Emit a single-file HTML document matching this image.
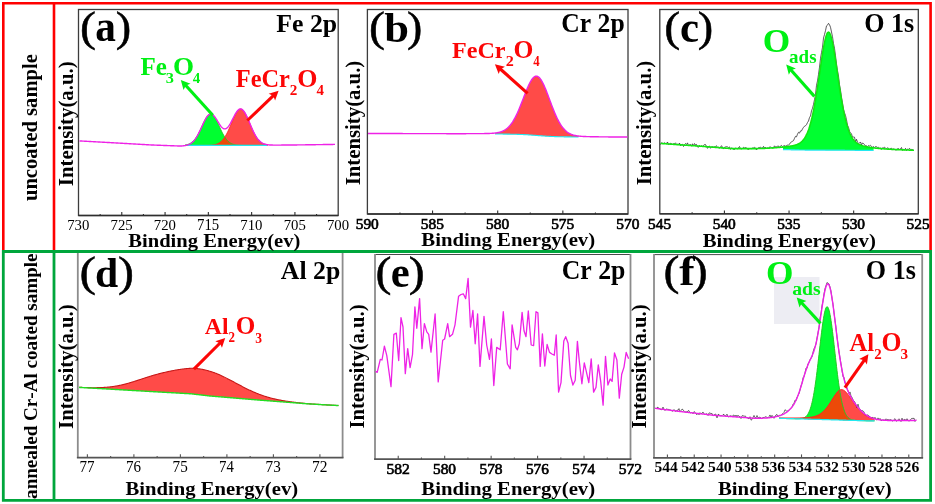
<!DOCTYPE html>
<html><head><meta charset="utf-8"><title>XPS spectra</title>
<style>html,body{margin:0;padding:0;background:#fff;width:935px;height:504px;overflow:hidden}</style>
</head><body>
<svg width="935" height="504" viewBox="0 0 935 504" style="display:block;filter:blur(0.4px);font-family:'Liberation Serif',serif;font-kerning:none">
<rect width="935" height="504" fill="#fff"/>
<rect x="78.5" y="9.5" width="259.7" height="206" fill="none" stroke="#3c3c3c" stroke-width="1.3"/>
<line x1="78.5" y1="215.5" x2="338.2" y2="215.5" stroke="#2e2e2e" stroke-width="1.3"/>
<line x1="316.56" y1="215.5" x2="316.56" y2="213.9" stroke="#2e2e2e" stroke-width="1.1"/>
<line x1="294.92" y1="215.5" x2="294.92" y2="212.1" stroke="#2e2e2e" stroke-width="1.1"/>
<line x1="273.27" y1="215.5" x2="273.27" y2="213.9" stroke="#2e2e2e" stroke-width="1.1"/>
<line x1="251.63" y1="215.5" x2="251.63" y2="212.1" stroke="#2e2e2e" stroke-width="1.1"/>
<line x1="229.99" y1="215.5" x2="229.99" y2="213.9" stroke="#2e2e2e" stroke-width="1.1"/>
<line x1="208.35" y1="215.5" x2="208.35" y2="212.1" stroke="#2e2e2e" stroke-width="1.1"/>
<line x1="186.71" y1="215.5" x2="186.71" y2="213.9" stroke="#2e2e2e" stroke-width="1.1"/>
<line x1="165.07" y1="215.5" x2="165.07" y2="212.1" stroke="#2e2e2e" stroke-width="1.1"/>
<line x1="143.43" y1="215.5" x2="143.43" y2="213.9" stroke="#2e2e2e" stroke-width="1.1"/>
<line x1="121.78" y1="215.5" x2="121.78" y2="212.1" stroke="#2e2e2e" stroke-width="1.1"/>
<line x1="100.14" y1="215.5" x2="100.14" y2="213.9" stroke="#2e2e2e" stroke-width="1.1"/>
<text transform="translate(67.23,229.65) scale(0.9484,1)" font-size="15.56" font-weight="normal" fill="#000">730</text>
<text transform="translate(110.51,229.65) scale(0.9449,1)" font-size="15.63" font-weight="normal" fill="#000">725</text>
<text transform="translate(153.79,229.65) scale(0.9484,1)" font-size="15.56" font-weight="normal" fill="#000">720</text>
<text transform="translate(197.08,229.65) scale(0.9422,1)" font-size="15.67" font-weight="normal" fill="#000">715</text>
<text transform="translate(240.36,229.65) scale(0.9484,1)" font-size="15.56" font-weight="normal" fill="#000">710</text>
<text transform="translate(283.64,229.65) scale(0.9490,1)" font-size="15.56" font-weight="normal" fill="#000">705</text>
<text transform="translate(326.93,229.65) scale(0.9484,1)" font-size="15.56" font-weight="normal" fill="#000">700</text>
<path d="M185,144.99 L185.5,144.91 L186,144.83 L186.5,144.73 L187,144.61 L187.5,144.48 L188,144.33 L188.5,144.16 L189,143.96 L189.5,143.75 L190,143.5 L190.5,143.23 L191,142.93 L191.5,142.59 L192,142.22 L192.5,141.81 L193,141.36 L193.5,140.86 L194,140.33 L194.5,139.75 L195,139.13 L195.5,138.46 L196,137.74 L196.5,136.98 L197,136.18 L197.5,135.33 L198,134.43 L198.5,133.5 L199,132.53 L199.5,131.53 L200,130.5 L200.5,129.45 L201,128.37 L201.5,127.29 L202,126.2 L202.5,125.11 L203,124.03 L203.5,122.97 L204,121.93 L204.5,120.92 L205,119.96 L205.5,119.04 L206,118.18 L206.5,117.39 L207,116.67 L207.5,116.03 L208,115.47 L208.5,115 L209,114.62 L209.5,114.35 L210,114.17 L210.5,114.1 L211,114.13 L211.5,114.27 L212,114.5 L212.5,114.84 L213,115.27 L213.5,115.79 L214,116.4 L214.5,117.09 L215,117.86 L215.5,118.69 L216,119.58 L216.5,120.53 L217,121.52 L217.5,122.55 L218,123.6 L218.5,124.67 L219,125.76 L219.5,126.85 L220,127.94 L220.5,129.02 L221,130.08 L221.5,131.12 L222,132.14 L222.5,133.12 L223,134.06 L223.5,134.97 L224,135.84 L224.5,136.67 L225,137.44 L225.5,138.18 L226,138.87 L226.5,139.51 L227,140.1 L227.5,140.66 L228,141.16 L228.5,141.63 L229,142.06 L229.5,142.44 L230,142.8 L230.5,143.11 L231,143.4 L231.5,143.65 L232,143.88 L232.5,144.08 L233,144.26 L233.5,144.42 L234,144.56 L234.5,144.68 L235,144.79 L235.5,144.88 L236,144.96 L236.5,145.03 L237,145.09 L237.5,145.14 L238,145.18 L238.5,145.22 L239,145.25 L239.5,145.27 L240,145.3 L240.5,145.31 L241,145.33 L241.5,145.34 L242,145.35 L242.5,145.36 L243,145.37 L243.5,145.38 L244,145.38 L244.5,145.38 L245,145.39 L245.5,145.39 L246,145.39 L246.5,145.39 L247,145.4 L247.5,145.4 L248,145.4 L248.5,145.4 L249,145.4 L249.5,145.4 L250,145.4 L250.5,145.4 L251,145.4 L251.5,145.4 L252,145.4 L252.5,145.4 L253,145.4 L253.5,145.4 L254,145.4 L254.5,145.4 L255,145.4 L255.5,145.4 L256,145.4 L256.5,145.4 L257,145.4 L257.5,145.4 L258,145.4 L258.5,145.4 L259,145.4 L259.5,145.4 L260,145.4 L260.5,145.4 L261,145.4 L261.5,145.4 L262,145.4 L262.5,145.4 L263,145.4 L263.5,145.4 L264,145.4 L264.5,145.4 L265,145.4 L265.5,145.4 L266,145.4 L266.5,145.4 L267,145.4 L267.5,145.4 L267.5,145.4 L267,145.4 L266.5,145.4 L266,145.4 L265.5,145.4 L265,145.4 L264.5,145.4 L264,145.4 L263.5,145.4 L263,145.4 L262.5,145.4 L262,145.4 L261.5,145.4 L261,145.4 L260.5,145.4 L260,145.4 L259.5,145.4 L259,145.4 L258.5,145.4 L258,145.4 L257.5,145.4 L257,145.4 L256.5,145.4 L256,145.4 L255.5,145.4 L255,145.4 L254.5,145.4 L254,145.4 L253.5,145.4 L253,145.4 L252.5,145.4 L252,145.4 L251.5,145.4 L251,145.4 L250.5,145.4 L250,145.4 L249.5,145.4 L249,145.4 L248.5,145.4 L248,145.4 L247.5,145.4 L247,145.4 L246.5,145.4 L246,145.4 L245.5,145.4 L245,145.4 L244.5,145.4 L244,145.4 L243.5,145.4 L243,145.4 L242.5,145.4 L242,145.4 L241.5,145.4 L241,145.4 L240.5,145.4 L240,145.4 L239.5,145.4 L239,145.4 L238.5,145.4 L238,145.4 L237.5,145.4 L237,145.4 L236.5,145.4 L236,145.4 L235.5,145.4 L235,145.4 L234.5,145.4 L234,145.4 L233.5,145.4 L233,145.4 L232.5,145.4 L232,145.4 L231.5,145.4 L231,145.4 L230.5,145.4 L230,145.4 L229.5,145.4 L229,145.4 L228.5,145.4 L228,145.4 L227.5,145.4 L227,145.4 L226.5,145.4 L226,145.4 L225.5,145.4 L225,145.4 L224.5,145.4 L224,145.4 L223.5,145.4 L223,145.4 L222.5,145.4 L222,145.4 L221.5,145.4 L221,145.4 L220.5,145.4 L220,145.4 L219.5,145.4 L219,145.4 L218.5,145.4 L218,145.4 L217.5,145.4 L217,145.4 L216.5,145.4 L216,145.4 L215.5,145.4 L215,145.4 L214.5,145.4 L214,145.4 L213.5,145.4 L213,145.4 L212.5,145.4 L212,145.4 L211.5,145.4 L211,145.4 L210.5,145.4 L210,145.4 L209.5,145.4 L209,145.4 L208.5,145.4 L208,145.4 L207.5,145.4 L207,145.4 L206.5,145.4 L206,145.4 L205.5,145.4 L205,145.4 L204.5,145.4 L204,145.4 L203.5,145.4 L203,145.4 L202.5,145.4 L202,145.4 L201.5,145.4 L201,145.4 L200.5,145.4 L200,145.4 L199.5,145.4 L199,145.4 L198.5,145.4 L198,145.4 L197.5,145.4 L197,145.4 L196.5,145.4 L196,145.4 L195.5,145.4 L195,145.4 L194.5,145.4 L194,145.4 L193.5,145.4 L193,145.4 L192.5,145.4 L192,145.4 L191.5,145.4 L191,145.4 L190.5,145.4 L190,145.4 L189.5,145.4 L189,145.4 L188.5,145.4 L188,145.4 L187.5,145.4 L187,145.4 L186.5,145.4 L186,145.4 L185.5,145.4 L185,145.4 Z" fill="#00ff30"/>
<path d="M185,145.4 L185.5,145.4 L186,145.4 L186.5,145.4 L187,145.4 L187.5,145.4 L188,145.4 L188.5,145.4 L189,145.4 L189.5,145.4 L190,145.4 L190.5,145.4 L191,145.4 L191.5,145.4 L192,145.4 L192.5,145.4 L193,145.4 L193.5,145.4 L194,145.4 L194.5,145.4 L195,145.4 L195.5,145.4 L196,145.4 L196.5,145.4 L197,145.4 L197.5,145.4 L198,145.4 L198.5,145.4 L199,145.4 L199.5,145.4 L200,145.4 L200.5,145.4 L201,145.4 L201.5,145.4 L202,145.39 L202.5,145.39 L203,145.39 L203.5,145.39 L204,145.39 L204.5,145.38 L205,145.38 L205.5,145.37 L206,145.37 L206.5,145.36 L207,145.35 L207.5,145.34 L208,145.33 L208.5,145.32 L209,145.3 L209.5,145.28 L210,145.26 L210.5,145.23 L211,145.19 L211.5,145.16 L212,145.11 L212.5,145.06 L213,145 L213.5,144.93 L214,144.84 L214.5,144.75 L215,144.64 L215.5,144.52 L216,144.38 L216.5,144.23 L217,144.05 L217.5,143.85 L218,143.62 L218.5,143.37 L219,143.09 L219.5,142.78 L220,142.44 L220.5,142.06 L221,141.65 L221.5,141.19 L222,140.7 L222.5,140.16 L223,139.58 L223.5,138.95 L224,138.27 L224.5,137.55 L225,136.78 L225.5,135.96 L226,135.1 L226.5,134.18 L227,133.23 L227.5,132.23 L228,131.19 L228.5,130.11 L229,129.01 L229.5,127.87 L230,126.71 L230.5,125.53 L231,124.34 L231.5,123.14 L232,121.95 L232.5,120.76 L233,119.59 L233.5,118.45 L234,117.34 L234.5,116.26 L235,115.24 L235.5,114.27 L236,113.37 L236.5,112.53 L237,111.78 L237.5,111.1 L238,110.52 L238.5,110.03 L239,109.64 L239.5,109.36 L240,109.18 L240.5,109.1 L241,109.13 L241.5,109.27 L242,109.52 L242.5,109.87 L243,110.31 L243.5,110.86 L244,111.5 L244.5,112.22 L245,113.02 L245.5,113.9 L246,114.84 L246.5,115.85 L247,116.9 L247.5,118 L248,119.13 L248.5,120.29 L249,121.47 L249.5,122.67 L250,123.86 L250.5,125.05 L251,126.24 L251.5,127.41 L252,128.55 L252.5,129.67 L253,130.76 L253.5,131.82 L254,132.83 L254.5,133.81 L255,134.74 L255.5,135.62 L256,136.46 L256.5,137.25 L257,137.99 L257.5,138.68 L258,139.33 L258.5,139.93 L259,140.49 L259.5,141 L260,141.47 L260.5,141.9 L261,142.29 L261.5,142.65 L262,142.97 L262.5,143.26 L263,143.53 L263.5,143.76 L264,143.97 L264.5,144.16 L265,144.32 L265.5,144.47 L266,144.6 L266.5,144.71 L267,144.81 L267.5,144.89 L267.5,145.4 L267,145.4 L266.5,145.4 L266,145.4 L265.5,145.4 L265,145.4 L264.5,145.4 L264,145.4 L263.5,145.4 L263,145.4 L262.5,145.4 L262,145.4 L261.5,145.4 L261,145.4 L260.5,145.4 L260,145.4 L259.5,145.4 L259,145.4 L258.5,145.4 L258,145.4 L257.5,145.4 L257,145.4 L256.5,145.4 L256,145.4 L255.5,145.4 L255,145.4 L254.5,145.4 L254,145.4 L253.5,145.4 L253,145.4 L252.5,145.4 L252,145.4 L251.5,145.4 L251,145.4 L250.5,145.4 L250,145.4 L249.5,145.4 L249,145.4 L248.5,145.4 L248,145.4 L247.5,145.4 L247,145.4 L246.5,145.4 L246,145.4 L245.5,145.4 L245,145.4 L244.5,145.4 L244,145.4 L243.5,145.4 L243,145.4 L242.5,145.4 L242,145.4 L241.5,145.4 L241,145.4 L240.5,145.4 L240,145.4 L239.5,145.4 L239,145.4 L238.5,145.4 L238,145.4 L237.5,145.4 L237,145.4 L236.5,145.4 L236,145.4 L235.5,145.4 L235,145.4 L234.5,145.4 L234,145.4 L233.5,145.4 L233,145.4 L232.5,145.4 L232,145.4 L231.5,145.4 L231,145.4 L230.5,145.4 L230,145.4 L229.5,145.4 L229,145.4 L228.5,145.4 L228,145.4 L227.5,145.4 L227,145.4 L226.5,145.4 L226,145.4 L225.5,145.4 L225,145.4 L224.5,145.4 L224,145.4 L223.5,145.4 L223,145.4 L222.5,145.4 L222,145.4 L221.5,145.4 L221,145.4 L220.5,145.4 L220,145.4 L219.5,145.4 L219,145.4 L218.5,145.4 L218,145.4 L217.5,145.4 L217,145.4 L216.5,145.4 L216,145.4 L215.5,145.4 L215,145.4 L214.5,145.4 L214,145.4 L213.5,145.4 L213,145.4 L212.5,145.4 L212,145.4 L211.5,145.4 L211,145.4 L210.5,145.4 L210,145.4 L209.5,145.4 L209,145.4 L208.5,145.4 L208,145.4 L207.5,145.4 L207,145.4 L206.5,145.4 L206,145.4 L205.5,145.4 L205,145.4 L204.5,145.4 L204,145.4 L203.5,145.4 L203,145.4 L202.5,145.4 L202,145.4 L201.5,145.4 L201,145.4 L200.5,145.4 L200,145.4 L199.5,145.4 L199,145.4 L198.5,145.4 L198,145.4 L197.5,145.4 L197,145.4 L196.5,145.4 L196,145.4 L195.5,145.4 L195,145.4 L194.5,145.4 L194,145.4 L193.5,145.4 L193,145.4 L192.5,145.4 L192,145.4 L191.5,145.4 L191,145.4 L190.5,145.4 L190,145.4 L189.5,145.4 L189,145.4 L188.5,145.4 L188,145.4 L187.5,145.4 L187,145.4 L186.5,145.4 L186,145.4 L185.5,145.4 L185,145.4 Z" fill="#ff4b48"/>
<path d="M185,145.4 L185.5,145.4 L186,145.4 L186.5,145.4 L187,145.4 L187.5,145.4 L188,145.4 L188.5,145.4 L189,145.4 L189.5,145.4 L190,145.4 L190.5,145.4 L191,145.4 L191.5,145.4 L192,145.4 L192.5,145.4 L193,145.4 L193.5,145.4 L194,145.4 L194.5,145.4 L195,145.4 L195.5,145.4 L196,145.4 L196.5,145.4 L197,145.4 L197.5,145.4 L198,145.4 L198.5,145.4 L199,145.4 L199.5,145.4 L200,145.4 L200.5,145.4 L201,145.4 L201.5,145.4 L202,145.39 L202.5,145.39 L203,145.39 L203.5,145.39 L204,145.39 L204.5,145.38 L205,145.38 L205.5,145.37 L206,145.37 L206.5,145.36 L207,145.35 L207.5,145.34 L208,145.33 L208.5,145.32 L209,145.3 L209.5,145.28 L210,145.26 L210.5,145.23 L211,145.19 L211.5,145.16 L212,145.11 L212.5,145.06 L213,145 L213.5,144.93 L214,144.84 L214.5,144.75 L215,144.64 L215.5,144.52 L216,144.38 L216.5,144.23 L217,144.05 L217.5,143.85 L218,143.62 L218.5,143.37 L219,143.09 L219.5,142.78 L220,142.44 L220.5,142.06 L221,141.65 L221.5,141.19 L222,140.7 L222.5,140.16 L223,139.58 L223.5,138.95 L224,138.27 L224.5,137.55 L225,137.44 L225.5,138.18 L226,138.87 L226.5,139.51 L227,140.1 L227.5,140.66 L228,141.16 L228.5,141.63 L229,142.06 L229.5,142.44 L230,142.8 L230.5,143.11 L231,143.4 L231.5,143.65 L232,143.88 L232.5,144.08 L233,144.26 L233.5,144.42 L234,144.56 L234.5,144.68 L235,144.79 L235.5,144.88 L236,144.96 L236.5,145.03 L237,145.09 L237.5,145.14 L238,145.18 L238.5,145.22 L239,145.25 L239.5,145.27 L240,145.3 L240.5,145.31 L241,145.33 L241.5,145.34 L242,145.35 L242.5,145.36 L243,145.37 L243.5,145.38 L244,145.38 L244.5,145.38 L245,145.39 L245.5,145.39 L246,145.39 L246.5,145.39 L247,145.4 L247.5,145.4 L248,145.4 L248.5,145.4 L249,145.4 L249.5,145.4 L250,145.4 L250.5,145.4 L251,145.4 L251.5,145.4 L252,145.4 L252.5,145.4 L253,145.4 L253.5,145.4 L254,145.4 L254.5,145.4 L255,145.4 L255.5,145.4 L256,145.4 L256.5,145.4 L257,145.4 L257.5,145.4 L258,145.4 L258.5,145.4 L259,145.4 L259.5,145.4 L260,145.4 L260.5,145.4 L261,145.4 L261.5,145.4 L262,145.4 L262.5,145.4 L263,145.4 L263.5,145.4 L264,145.4 L264.5,145.4 L265,145.4 L265.5,145.4 L266,145.4 L266.5,145.4 L267,145.4 L267.5,145.4 L267.5,145.4 L267,145.4 L266.5,145.4 L266,145.4 L265.5,145.4 L265,145.4 L264.5,145.4 L264,145.4 L263.5,145.4 L263,145.4 L262.5,145.4 L262,145.4 L261.5,145.4 L261,145.4 L260.5,145.4 L260,145.4 L259.5,145.4 L259,145.4 L258.5,145.4 L258,145.4 L257.5,145.4 L257,145.4 L256.5,145.4 L256,145.4 L255.5,145.4 L255,145.4 L254.5,145.4 L254,145.4 L253.5,145.4 L253,145.4 L252.5,145.4 L252,145.4 L251.5,145.4 L251,145.4 L250.5,145.4 L250,145.4 L249.5,145.4 L249,145.4 L248.5,145.4 L248,145.4 L247.5,145.4 L247,145.4 L246.5,145.4 L246,145.4 L245.5,145.4 L245,145.4 L244.5,145.4 L244,145.4 L243.5,145.4 L243,145.4 L242.5,145.4 L242,145.4 L241.5,145.4 L241,145.4 L240.5,145.4 L240,145.4 L239.5,145.4 L239,145.4 L238.5,145.4 L238,145.4 L237.5,145.4 L237,145.4 L236.5,145.4 L236,145.4 L235.5,145.4 L235,145.4 L234.5,145.4 L234,145.4 L233.5,145.4 L233,145.4 L232.5,145.4 L232,145.4 L231.5,145.4 L231,145.4 L230.5,145.4 L230,145.4 L229.5,145.4 L229,145.4 L228.5,145.4 L228,145.4 L227.5,145.4 L227,145.4 L226.5,145.4 L226,145.4 L225.5,145.4 L225,145.4 L224.5,145.4 L224,145.4 L223.5,145.4 L223,145.4 L222.5,145.4 L222,145.4 L221.5,145.4 L221,145.4 L220.5,145.4 L220,145.4 L219.5,145.4 L219,145.4 L218.5,145.4 L218,145.4 L217.5,145.4 L217,145.4 L216.5,145.4 L216,145.4 L215.5,145.4 L215,145.4 L214.5,145.4 L214,145.4 L213.5,145.4 L213,145.4 L212.5,145.4 L212,145.4 L211.5,145.4 L211,145.4 L210.5,145.4 L210,145.4 L209.5,145.4 L209,145.4 L208.5,145.4 L208,145.4 L207.5,145.4 L207,145.4 L206.5,145.4 L206,145.4 L205.5,145.4 L205,145.4 L204.5,145.4 L204,145.4 L203.5,145.4 L203,145.4 L202.5,145.4 L202,145.4 L201.5,145.4 L201,145.4 L200.5,145.4 L200,145.4 L199.5,145.4 L199,145.4 L198.5,145.4 L198,145.4 L197.5,145.4 L197,145.4 L196.5,145.4 L196,145.4 L195.5,145.4 L195,145.4 L194.5,145.4 L194,145.4 L193.5,145.4 L193,145.4 L192.5,145.4 L192,145.4 L191.5,145.4 L191,145.4 L190.5,145.4 L190,145.4 L189.5,145.4 L189,145.4 L188.5,145.4 L188,145.4 L187.5,145.4 L187,145.4 L186.5,145.4 L186,145.4 L185.5,145.4 L185,145.4 Z" fill="#ec4a08"/>
<path d="M185,144.99 L185.5,144.91 L186,144.83 L186.5,144.73 L187,144.61 L187.5,144.48 L188,144.33 L188.5,144.16 L189,143.96 L189.5,143.75 L190,143.5 L190.5,143.23 L191,142.93 L191.5,142.59 L192,142.22 L192.5,141.81 L193,141.36 L193.5,140.86 L194,140.33 L194.5,139.75 L195,139.13 L195.5,138.46 L196,137.74 L196.5,136.98 L197,136.18 L197.5,135.33 L198,134.43 L198.5,133.5 L199,132.53 L199.5,131.53 L200,130.5 L200.5,129.45 L201,128.37 L201.5,127.29 L202,126.2 L202.5,125.11 L203,124.03 L203.5,122.97 L204,121.93 L204.5,120.92 L205,119.96 L205.5,119.04 L206,118.18 L206.5,117.39 L207,116.67 L207.5,116.03 L208,115.47 L208.5,115 L209,114.62 L209.5,114.35 L210,114.17 L210.5,114.1 L211,114.13 L211.5,114.27 L212,114.5 L212.5,114.84 L213,115.27 L213.5,115.79 L214,116.4 L214.5,117.09 L215,117.86 L215.5,118.69 L216,119.58 L216.5,120.53 L217,121.52 L217.5,122.55 L218,123.6 L218.5,124.67 L219,125.76 L219.5,126.85 L220,127.94 L220.5,129.02 L221,130.08 L221.5,131.12 L222,132.14 L222.5,133.12 L223,134.06 L223.5,134.97 L224,135.84 L224.5,136.67 L225,137.44 L225.5,138.18 L226,138.87 L226.5,139.51 L227,140.1 L227.5,140.66 L228,141.16 L228.5,141.63 L229,142.06 L229.5,142.44 L230,142.8 L230.5,143.11 L231,143.4 L231.5,143.65 L232,143.88 L232.5,144.08 L233,144.26 L233.5,144.42 L234,144.56 L234.5,144.68 L235,144.79 L235.5,144.88 L236,144.96 L236.5,145.03 L237,145.09 L237.5,145.14 L238,145.18 L238.5,145.22 L239,145.25 L239.5,145.27 L240,145.3 L240.5,145.31 L241,145.33 L241.5,145.34 L242,145.35 L242.5,145.36 L243,145.37 L243.5,145.38 L244,145.38 L244.5,145.38 L245,145.39 L245.5,145.39 L246,145.39 L246.5,145.39 L247,145.4 L247.5,145.4 L248,145.4 L248.5,145.4 L249,145.4 L249.5,145.4 L250,145.4 L250.5,145.4 L251,145.4 L251.5,145.4 L252,145.4 L252.5,145.4 L253,145.4 L253.5,145.4 L254,145.4 L254.5,145.4 L255,145.4 L255.5,145.4 L256,145.4 L256.5,145.4 L257,145.4 L257.5,145.4 L258,145.4 L258.5,145.4 L259,145.4 L259.5,145.4 L260,145.4 L260.5,145.4 L261,145.4 L261.5,145.4 L262,145.4 L262.5,145.4 L263,145.4 L263.5,145.4 L264,145.4 L264.5,145.4 L265,145.4 L265.5,145.4 L266,145.4 L266.5,145.4 L267,145.4 L267.5,145.4" fill="none" stroke="#1ec81e" stroke-width="0.9"/>
<path d="M185,145.4 L185.5,145.4 L186,145.4 L186.5,145.4 L187,145.4 L187.5,145.4 L188,145.4 L188.5,145.4 L189,145.4 L189.5,145.4 L190,145.4 L190.5,145.4 L191,145.4 L191.5,145.4 L192,145.4 L192.5,145.4 L193,145.4 L193.5,145.4 L194,145.4 L194.5,145.4 L195,145.4 L195.5,145.4 L196,145.4 L196.5,145.4 L197,145.4 L197.5,145.4 L198,145.4 L198.5,145.4 L199,145.4 L199.5,145.4 L200,145.4 L200.5,145.4 L201,145.4 L201.5,145.4 L202,145.39 L202.5,145.39 L203,145.39 L203.5,145.39 L204,145.39 L204.5,145.38 L205,145.38 L205.5,145.37 L206,145.37 L206.5,145.36 L207,145.35 L207.5,145.34 L208,145.33 L208.5,145.32 L209,145.3 L209.5,145.28 L210,145.26 L210.5,145.23 L211,145.19 L211.5,145.16 L212,145.11 L212.5,145.06 L213,145 L213.5,144.93 L214,144.84 L214.5,144.75 L215,144.64 L215.5,144.52 L216,144.38 L216.5,144.23 L217,144.05 L217.5,143.85 L218,143.62 L218.5,143.37 L219,143.09 L219.5,142.78 L220,142.44 L220.5,142.06 L221,141.65 L221.5,141.19 L222,140.7 L222.5,140.16 L223,139.58 L223.5,138.95 L224,138.27 L224.5,137.55 L225,136.78 L225.5,135.96 L226,135.1 L226.5,134.18 L227,133.23 L227.5,132.23 L228,131.19 L228.5,130.11 L229,129.01 L229.5,127.87 L230,126.71 L230.5,125.53 L231,124.34 L231.5,123.14 L232,121.95 L232.5,120.76 L233,119.59 L233.5,118.45 L234,117.34 L234.5,116.26 L235,115.24 L235.5,114.27 L236,113.37 L236.5,112.53 L237,111.78 L237.5,111.1 L238,110.52 L238.5,110.03 L239,109.64 L239.5,109.36 L240,109.18 L240.5,109.1 L241,109.13 L241.5,109.27 L242,109.52 L242.5,109.87 L243,110.31 L243.5,110.86 L244,111.5 L244.5,112.22 L245,113.02 L245.5,113.9 L246,114.84 L246.5,115.85 L247,116.9 L247.5,118 L248,119.13 L248.5,120.29 L249,121.47 L249.5,122.67 L250,123.86 L250.5,125.05 L251,126.24 L251.5,127.41 L252,128.55 L252.5,129.67 L253,130.76 L253.5,131.82 L254,132.83 L254.5,133.81 L255,134.74 L255.5,135.62 L256,136.46 L256.5,137.25 L257,137.99 L257.5,138.68 L258,139.33 L258.5,139.93 L259,140.49 L259.5,141 L260,141.47 L260.5,141.9 L261,142.29 L261.5,142.65 L262,142.97 L262.5,143.26 L263,143.53 L263.5,143.76 L264,143.97 L264.5,144.16 L265,144.32 L265.5,144.47 L266,144.6 L266.5,144.71 L267,144.81 L267.5,144.89" fill="none" stroke="#ff2020" stroke-width="0.9"/>
<line x1="186" y1="145.4" x2="267" y2="145.4" stroke="#22e8f0" stroke-width="1.1"/>
<path d="M79.5,140.93 L80,140.95 L80.5,140.98 L81,141.01 L81.5,141.04 L82,141.06 L82.5,141.09 L83,141.12 L83.5,141.15 L84,141.17 L84.5,141.2 L85,141.23 L85.5,141.26 L86,141.28 L86.5,141.31 L87,141.34 L87.5,141.37 L88,141.39 L88.5,141.42 L89,141.45 L89.5,141.48 L90,141.5 L90.5,141.53 L91,141.56 L91.5,141.59 L92,141.61 L92.5,141.64 L93,141.67 L93.5,141.7 L94,141.72 L94.5,141.75 L95,141.78 L95.5,141.8 L96,141.83 L96.5,141.86 L97,141.89 L97.5,141.91 L98,141.94 L98.5,141.97 L99,142 L99.5,142.02 L100,142.05 L100.5,142.08 L101,142.11 L101.5,142.13 L102,142.16 L102.5,142.19 L103,142.22 L103.5,142.24 L104,142.27 L104.5,142.3 L105,142.33 L105.5,142.35 L106,142.38 L106.5,142.41 L107,142.44 L107.5,142.46 L108,142.49 L108.5,142.52 L109,142.55 L109.5,142.57 L110,142.6 L110.5,142.63 L111,142.66 L111.5,142.69 L112,142.71 L112.5,142.74 L113,142.77 L113.5,142.8 L114,142.83 L114.5,142.86 L115,142.89 L115.5,142.91 L116,142.94 L116.5,142.97 L117,143 L117.5,143.03 L118,143.06 L118.5,143.09 L119,143.11 L119.5,143.14 L120,143.17 L120.5,143.2 L121,143.23 L121.5,143.26 L122,143.29 L122.5,143.31 L123,143.34 L123.5,143.37 L124,143.4 L124.5,143.43 L125,143.46 L125.5,143.49 L126,143.51 L126.5,143.54 L127,143.57 L127.5,143.6 L128,143.63 L128.5,143.66 L129,143.69 L129.5,143.71 L130,143.74 L130.5,143.77 L131,143.8 L131.5,143.83 L132,143.86 L132.5,143.89 L133,143.91 L133.5,143.94 L134,143.97 L134.5,144 L135,144.03 L135.5,144.06 L136,144.09 L136.5,144.11 L137,144.14 L137.5,144.17 L138,144.2 L138.5,144.23 L139,144.26 L139.5,144.29 L140,144.31 L140.5,144.34 L141,144.37 L141.5,144.4 L142,144.43 L142.5,144.46 L143,144.49 L143.5,144.51 L144,144.54 L144.5,144.57 L145,144.6 L145.5,144.63 L146,144.66 L146.5,144.69 L147,144.71 L147.5,144.74 L148,144.77 L148.5,144.8 L149,144.83 L149.5,144.86 L150,144.89 L150.5,144.91 L151,144.94 L151.5,144.97 L152,145 L152.5,145.02 L153,145.04 L153.5,145.06 L154,145.07 L154.5,145.09 L155,145.11 L155.5,145.13 L156,145.15 L156.5,145.17 L157,145.19 L157.5,145.21 L158,145.22 L158.5,145.24 L159,145.26 L159.5,145.28 L160,145.3 L160.5,145.32 L161,145.34 L161.5,145.35 L162,145.37 L162.5,145.39 L163,145.41 L163.5,145.43 L164,145.45 L164.5,145.47 L165,145.48 L165.5,145.5 L166,145.52 L166.5,145.54 L167,145.56 L167.5,145.58 L168,145.6 L168.5,145.61 L169,145.63 L169.5,145.65 L170,145.67 L170.5,145.69 L171,145.71 L171.5,145.73 L172,145.74 L172.5,145.76 L173,145.78 L173.5,145.8 L174,145.82 L174.5,145.83 L175,145.85 L175.5,145.87 L176,145.88 L176.5,145.9 L177,145.91 L177.5,145.93 L178,145.94 L178.5,145.95 L179,145.96 L179.5,145.97 L180,145.98 L180.5,145.98 L181,145.99 L181.5,145.98 L182,145.94 L182.5,145.9 L183,145.85 L183.5,145.79 L184,145.73 L184.5,145.65 L185,145.57 L185.5,145.48 L186,145.38 L186.5,145.26 L187,145.13 L187.5,144.98 L188,144.82 L188.5,144.63 L189,144.42 L189.5,144.19 L190,143.93 L190.5,143.64 L191,143.32 L191.5,142.96 L192,142.58 L192.5,142.15 L193,141.68 L193.5,141.17 L194,140.62 L194.5,140.03 L195,139.39 L195.5,138.7 L196,137.97 L196.5,137.2 L197,136.37 L197.5,135.51 L198,134.6 L198.5,133.65 L199,132.66 L199.5,131.64 L200,130.6 L200.5,129.54 L201,128.47 L201.5,127.38 L202,126.28 L202.5,125.19 L203,124.11 L203.5,123.04 L204,122 L204.5,120.99 L205,120.02 L205.5,119.1 L206,118.23 L206.5,117.43 L207,116.7 L207.5,116.04 L208,115.47 L208.5,114.99 L209,114.59 L209.5,114.29 L210,114.09 L210.5,113.99 L211,113.99 L211.5,114.08 L212,114.27 L212.5,114.55 L213,114.92 L213.5,115.37 L214,115.89 L214.5,116.49 L215,117.15 L215.5,117.86 L216,118.61 L216.5,119.4 L217,120.21 L217.5,121.03 L218,121.86 L218.5,122.68 L219,123.49 L219.5,124.26 L220,125.01 L220.5,125.71 L221,126.35 L221.5,126.94 L222,127.45 L222.5,127.89 L223,128.26 L223.5,128.54 L224,128.73 L224.5,128.83 L225,128.83 L225.5,128.75 L226,128.57 L226.5,128.3 L227,127.93 L227.5,127.48 L228,126.95 L228.5,126.34 L229,125.66 L229.5,124.91 L230,124.09 L230.5,123.23 L231,122.32 L231.5,121.38 L232,120.41 L232.5,119.43 L233,118.44 L233.5,117.45 L234,116.47 L234.5,115.52 L235,114.6 L235.5,113.72 L236,112.89 L236.5,112.13 L237,111.43 L237.5,110.8 L238,110.26 L238.5,109.81 L239,109.45 L239.5,109.19 L240,109.03 L240.5,108.97 L241,109.02 L241.5,109.17 L242,109.42 L242.5,109.77 L243,110.23 L243.5,110.78 L244,111.42 L244.5,112.14 L245,112.95 L245.5,113.82 L246,114.77 L246.5,115.77 L247,116.83 L247.5,117.92 L248,119.05 L248.5,120.21 L249,121.39 L249.5,122.58 L250,123.78 L250.5,124.97 L251,126.15 L251.5,127.32 L252,128.46 L252.5,129.58 L253,130.67 L253.5,131.72 L254,132.74 L254.5,133.71 L255,134.64 L255.5,135.52 L256,136.35 L256.5,137.14 L257,137.87 L257.5,138.56 L258,139.21 L258.5,139.81 L259,140.36 L259.5,140.87 L260,141.33 L260.5,141.76 L261,142.15 L261.5,142.5 L262,142.82 L262.5,143.11 L263,143.37 L263.5,143.6 L264,143.8 L264.5,143.99 L265,144.15 L265.5,144.29 L266,144.42 L266.5,144.53 L267,144.62 L267.5,144.7 L268,144.77 L268.5,144.84 L269,144.89 L269.5,144.93 L270,144.97 L270.5,145 L271,145.02 L271.5,145.04 L272,145.06 L272.5,145.07 L273,145.08 L273.5,145.09 L274,145.1 L274.5,145.1 L275,145.11 L275.5,145.11 L276,145.11 L276.5,145.11 L277,145.11 L277.5,145.1 L278,145.1 L278.5,145.1 L279,145.09 L279.5,145.09 L280,145.09 L280.5,145.08 L281,145.08 L281.5,145.07 L282,145.07 L282.5,145.07 L283,145.06 L283.5,145.06 L284,145.05 L284.5,145.05 L285,145.04 L285.5,145.04 L286,145.03 L286.5,145.03 L287,145.02 L287.5,145.02 L288,145.01 L288.5,145.01 L289,145.01 L289.5,145 L290,145 L290.5,144.99 L291,144.99 L291.5,144.98 L292,144.98 L292.5,144.97 L293,144.97 L293.5,144.96 L294,144.96 L294.5,144.95 L295,144.95 L295.5,144.94 L296,144.94 L296.5,144.93 L297,144.93 L297.5,144.92 L298,144.92 L298.5,144.91 L299,144.91 L299.5,144.9 L300,144.9 L300.5,144.89 L301,144.89 L301.5,144.88 L302,144.87 L302.5,144.86 L303,144.86 L303.5,144.85 L304,144.84 L304.5,144.84 L305,144.83 L305.5,144.82 L306,144.81 L306.5,144.81 L307,144.8 L307.5,144.79 L308,144.79 L308.5,144.78 L309,144.77 L309.5,144.76 L310,144.76 L310.5,144.75 L311,144.74 L311.5,144.74 L312,144.73 L312.5,144.72 L313,144.71 L313.5,144.71 L314,144.7 L314.5,144.69 L315,144.69 L315.5,144.68 L316,144.67 L316.5,144.66 L317,144.66 L317.5,144.65 L318,144.64 L318.5,144.64 L319,144.63 L319.5,144.62 L320,144.61 L320.5,144.61 L321,144.6 L321.5,144.59 L322,144.59 L322.5,144.58 L323,144.57 L323.5,144.56 L324,144.56 L324.5,144.55 L325,144.54 L325.5,144.54 L326,144.53 L326.5,144.52 L327,144.51 L327.5,144.51 L328,144.5 L328.5,144.49 L329,144.49 L329.5,144.48 L330,144.47 L330.5,144.46 L331,144.46 L331.5,144.45 L332,144.44 L332.5,144.44 L333,144.43 L333.5,144.42 L334,144.41 L334.5,144.41 L335,144.4" fill="none" stroke="#ee22e6" stroke-width="1.4"/>
<rect x="367.4" y="9.5" width="260.6" height="204.5" fill="none" stroke="#3c3c3c" stroke-width="1.3"/>
<line x1="367.4" y1="214" x2="628" y2="214" stroke="#2e2e2e" stroke-width="1.3"/>
<line x1="595.42" y1="214" x2="595.42" y2="212.4" stroke="#2e2e2e" stroke-width="1.1"/>
<line x1="562.85" y1="214" x2="562.85" y2="210.6" stroke="#2e2e2e" stroke-width="1.1"/>
<line x1="530.27" y1="214" x2="530.27" y2="212.4" stroke="#2e2e2e" stroke-width="1.1"/>
<line x1="497.7" y1="214" x2="497.7" y2="210.6" stroke="#2e2e2e" stroke-width="1.1"/>
<line x1="465.12" y1="214" x2="465.12" y2="212.4" stroke="#2e2e2e" stroke-width="1.1"/>
<line x1="432.55" y1="214" x2="432.55" y2="210.6" stroke="#2e2e2e" stroke-width="1.1"/>
<line x1="399.97" y1="214" x2="399.97" y2="212.4" stroke="#2e2e2e" stroke-width="1.1"/>
<text transform="translate(355.71,228.76) scale(1.0383,1)" font-size="14.82" font-weight="normal" fill="#000" stroke="#000" stroke-width="0.65">590</text>
<text transform="translate(420.86,228.76) scale(1.0390,1)" font-size="14.82" font-weight="normal" fill="#000" stroke="#000" stroke-width="0.65">585</text>
<text transform="translate(486.01,228.76) scale(1.0383,1)" font-size="14.82" font-weight="normal" fill="#000" stroke="#000" stroke-width="0.65">580</text>
<text transform="translate(551.16,228.75) scale(1.0232,1)" font-size="15.05" font-weight="normal" fill="#000" stroke="#000" stroke-width="0.65">575</text>
<text transform="translate(616.31,228.76) scale(1.0383,1)" font-size="14.82" font-weight="normal" fill="#000" stroke="#000" stroke-width="0.65">570</text>
<path d="M495,133.04 L495.5,132.98 L496,132.91 L496.5,132.83 L497,132.75 L497.5,132.66 L498,132.56 L498.5,132.46 L499,132.34 L499.5,132.21 L500,132.07 L500.5,131.92 L501,131.76 L501.5,131.58 L502,131.38 L502.5,131.17 L503,130.95 L503.5,130.7 L504,130.44 L504.5,130.16 L505,129.85 L505.5,129.53 L506,129.18 L506.5,128.8 L507,128.4 L507.5,127.98 L508,127.52 L508.5,127.04 L509,126.53 L509.5,125.98 L510,125.41 L510.5,124.8 L511,124.16 L511.5,123.49 L512,122.78 L512.5,122.04 L513,121.26 L513.5,120.45 L514,119.6 L514.5,118.72 L515,117.8 L515.5,116.85 L516,115.86 L516.5,114.84 L517,113.79 L517.5,112.7 L518,111.59 L518.5,110.44 L519,109.27 L519.5,108.08 L520,106.86 L520.5,105.62 L521,104.37 L521.5,103.1 L522,101.81 L522.5,100.52 L523,99.22 L523.5,97.92 L524,96.62 L524.5,95.32 L525,94.04 L525.5,92.76 L526,91.5 L526.5,90.27 L527,89.06 L527.5,87.87 L528,86.73 L528.5,85.62 L529,84.55 L529.5,83.53 L530,82.56 L530.5,81.64 L531,80.79 L531.5,79.99 L532,79.27 L532.5,78.61 L533,78.02 L533.5,77.51 L534,77.08 L534.5,76.73 L535,76.46 L535.5,76.28 L536,76.18 L536.5,76.16 L537,76.23 L537.5,76.39 L538,76.63 L538.5,76.95 L539,77.36 L539.5,77.84 L540,78.41 L540.5,79.05 L541,79.76 L541.5,80.54 L542,81.39 L542.5,82.3 L543,83.27 L543.5,84.3 L544,85.37 L544.5,86.49 L545,87.66 L545.5,88.86 L546,90.09 L546.5,91.36 L547,92.65 L547.5,93.96 L548,95.28 L548.5,96.62 L549,97.97 L549.5,99.32 L550,100.67 L550.5,102.02 L551,103.36 L551.5,104.69 L552,106.01 L552.5,107.31 L553,108.59 L553.5,109.86 L554,111.09 L554.5,112.31 L555,113.49 L555.5,114.65 L556,115.77 L556.5,116.87 L557,117.93 L557.5,118.95 L558,119.94 L558.5,120.9 L559,121.82 L559.5,122.7 L560,123.55 L560.5,124.36 L561,125.13 L561.5,125.87 L562,126.57 L562.5,127.24 L563,127.87 L563.5,128.48 L564,129.04 L564.5,129.58 L565,130.09 L565.5,130.57 L566,131.01 L566.5,131.44 L567,131.83 L567.5,132.2 L568,132.55 L568.5,132.87 L569,133.17 L569.5,133.45 L570,133.71 L570.5,133.95 L571,134.18 L571.5,134.38 L572,134.58 L572.5,134.75 L573,134.92 L573.5,135.07 L574,135.21 L574.5,135.34 L575,135.46 L575.5,135.56 L576,135.66 L576.5,135.75 L577,135.84 L577.5,135.92 L578,135.99 L578.5,136.05 L578.5,136.98 L578,136.98 L577.5,136.98 L577,136.97 L576.5,136.97 L576,136.97 L575.5,136.96 L575,136.96 L574.5,136.95 L574,136.95 L573.5,136.94 L573,136.94 L572.5,136.94 L572,136.93 L571.5,136.93 L571,136.92 L570.5,136.92 L570,136.91 L569.5,136.9 L569,136.9 L568.5,136.89 L568,136.89 L567.5,136.88 L567,136.87 L566.5,136.87 L566,136.86 L565.5,136.85 L565,136.84 L564.5,136.83 L564,136.83 L563.5,136.82 L563,136.81 L562.5,136.8 L562,136.79 L561.5,136.78 L561,136.77 L560.5,136.76 L560,136.74 L559.5,136.73 L559,136.72 L558.5,136.71 L558,136.69 L557.5,136.68 L557,136.66 L556.5,136.65 L556,136.63 L555.5,136.61 L555,136.6 L554.5,136.58 L554,136.56 L553.5,136.54 L553,136.52 L552.5,136.5 L552,136.48 L551.5,136.46 L551,136.43 L550.5,136.41 L550,136.38 L549.5,136.36 L549,136.33 L548.5,136.31 L548,136.28 L547.5,136.25 L547,136.22 L546.5,136.19 L546,136.16 L545.5,136.13 L545,136.09 L544.5,136.06 L544,136.03 L543.5,135.99 L543,135.96 L542.5,135.92 L542,135.88 L541.5,135.85 L541,135.81 L540.5,135.77 L540,135.73 L539.5,135.7 L539,135.66 L538.5,135.62 L538,135.58 L537.5,135.54 L537,135.5 L536.5,135.46 L536,135.42 L535.5,135.38 L535,135.34 L534.5,135.3 L534,135.27 L533.5,135.23 L533,135.19 L532.5,135.15 L532,135.12 L531.5,135.08 L531,135.04 L530.5,135.01 L530,134.97 L529.5,134.94 L529,134.91 L528.5,134.87 L528,134.84 L527.5,134.81 L527,134.78 L526.5,134.75 L526,134.72 L525.5,134.69 L525,134.67 L524.5,134.64 L524,134.62 L523.5,134.59 L523,134.57 L522.5,134.54 L522,134.52 L521.5,134.5 L521,134.48 L520.5,134.46 L520,134.44 L519.5,134.42 L519,134.4 L518.5,134.39 L518,134.37 L517.5,134.35 L517,134.34 L516.5,134.32 L516,134.31 L515.5,134.29 L515,134.28 L514.5,134.27 L514,134.26 L513.5,134.24 L513,134.23 L512.5,134.22 L512,134.21 L511.5,134.2 L511,134.19 L510.5,134.18 L510,134.17 L509.5,134.17 L509,134.16 L508.5,134.15 L508,134.14 L507.5,134.13 L507,134.13 L506.5,134.12 L506,134.11 L505.5,134.11 L505,134.1 L504.5,134.1 L504,134.09 L503.5,134.08 L503,134.08 L502.5,134.07 L502,134.07 L501.5,134.06 L501,134.06 L500.5,134.06 L500,134.05 L499.5,134.05 L499,134.04 L498.5,134.04 L498,134.03 L497.5,134.03 L497,134.03 L496.5,134.02 L496,134.02 L495.5,134.02 L495,134.01 Z" fill="#ff4b48"/>
<path d="M495,134.01 L495.5,134.02 L496,134.02 L496.5,134.02 L497,134.03 L497.5,134.03 L498,134.03 L498.5,134.04 L499,134.04 L499.5,134.05 L500,134.05 L500.5,134.06 L501,134.06 L501.5,134.06 L502,134.07 L502.5,134.07 L503,134.08 L503.5,134.08 L504,134.09 L504.5,134.1 L505,134.1 L505.5,134.11 L506,134.11 L506.5,134.12 L507,134.13 L507.5,134.13 L508,134.14 L508.5,134.15 L509,134.16 L509.5,134.17 L510,134.17 L510.5,134.18 L511,134.19 L511.5,134.2 L512,134.21 L512.5,134.22 L513,134.23 L513.5,134.24 L514,134.26 L514.5,134.27 L515,134.28 L515.5,134.29 L516,134.31 L516.5,134.32 L517,134.34 L517.5,134.35 L518,134.37 L518.5,134.39 L519,134.4 L519.5,134.42 L520,134.44 L520.5,134.46 L521,134.48 L521.5,134.5 L522,134.52 L522.5,134.54 L523,134.57 L523.5,134.59 L524,134.62 L524.5,134.64 L525,134.67 L525.5,134.69 L526,134.72 L526.5,134.75 L527,134.78 L527.5,134.81 L528,134.84 L528.5,134.87 L529,134.91 L529.5,134.94 L530,134.97 L530.5,135.01 L531,135.04 L531.5,135.08 L532,135.12 L532.5,135.15 L533,135.19 L533.5,135.23 L534,135.27 L534.5,135.3 L535,135.34 L535.5,135.38 L536,135.42 L536.5,135.46 L537,135.5 L537.5,135.54 L538,135.58 L538.5,135.62 L539,135.66 L539.5,135.7 L540,135.73 L540.5,135.77 L541,135.81 L541.5,135.85 L542,135.88 L542.5,135.92 L543,135.96 L543.5,135.99 L544,136.03 L544.5,136.06 L545,136.09 L545.5,136.13 L546,136.16 L546.5,136.19 L547,136.22 L547.5,136.25 L548,136.28 L548.5,136.31 L549,136.33 L549.5,136.36 L550,136.38 L550.5,136.41 L551,136.43 L551.5,136.46 L552,136.48 L552.5,136.5 L553,136.52 L553.5,136.54 L554,136.56 L554.5,136.58 L555,136.6 L555.5,136.61 L556,136.63 L556.5,136.65 L557,136.66 L557.5,136.68 L558,136.69 L558.5,136.71 L559,136.72 L559.5,136.73 L560,136.74 L560.5,136.76 L561,136.77 L561.5,136.78 L562,136.79 L562.5,136.8 L563,136.81 L563.5,136.82 L564,136.83 L564.5,136.83 L565,136.84 L565.5,136.85 L566,136.86 L566.5,136.87 L567,136.87 L567.5,136.88 L568,136.89 L568.5,136.89 L569,136.9 L569.5,136.9 L570,136.91 L570.5,136.92 L571,136.92 L571.5,136.93 L572,136.93 L572.5,136.94 L573,136.94 L573.5,136.94 L574,136.95 L574.5,136.95 L575,136.96 L575.5,136.96 L576,136.97 L576.5,136.97 L577,136.97 L577.5,136.98 L578,136.98 L578.5,136.98" fill="none" stroke="#22e8f0" stroke-width="1.1"/>
<path d="M368,133.46 L368.5,133.46 L369,133.47 L369.5,133.47 L370,133.47 L370.5,133.47 L371,133.47 L371.5,133.47 L372,133.48 L372.5,133.48 L373,133.48 L373.5,133.48 L374,133.48 L374.5,133.49 L375,133.49 L375.5,133.49 L376,133.49 L376.5,133.49 L377,133.49 L377.5,133.5 L378,133.5 L378.5,133.5 L379,133.5 L379.5,133.5 L380,133.5 L380.5,133.51 L381,133.51 L381.5,133.51 L382,133.51 L382.5,133.51 L383,133.51 L383.5,133.51 L384,133.52 L384.5,133.52 L385,133.52 L385.5,133.52 L386,133.52 L386.5,133.52 L387,133.53 L387.5,133.53 L388,133.53 L388.5,133.53 L389,133.53 L389.5,133.53 L390,133.54 L390.5,133.54 L391,133.54 L391.5,133.54 L392,133.54 L392.5,133.54 L393,133.55 L393.5,133.55 L394,133.55 L394.5,133.55 L395,133.55 L395.5,133.55 L396,133.55 L396.5,133.56 L397,133.56 L397.5,133.56 L398,133.56 L398.5,133.56 L399,133.56 L399.5,133.57 L400,133.57 L400.5,133.57 L401,133.57 L401.5,133.57 L402,133.57 L402.5,133.57 L403,133.58 L403.5,133.58 L404,133.58 L404.5,133.58 L405,133.58 L405.5,133.58 L406,133.58 L406.5,133.59 L407,133.59 L407.5,133.59 L408,133.59 L408.5,133.59 L409,133.59 L409.5,133.6 L410,133.6 L410.5,133.6 L411,133.6 L411.5,133.6 L412,133.6 L412.5,133.6 L413,133.6 L413.5,133.61 L414,133.61 L414.5,133.61 L415,133.61 L415.5,133.61 L416,133.61 L416.5,133.61 L417,133.62 L417.5,133.62 L418,133.62 L418.5,133.62 L419,133.62 L419.5,133.62 L420,133.62 L420.5,133.62 L421,133.63 L421.5,133.63 L422,133.63 L422.5,133.63 L423,133.63 L423.5,133.63 L424,133.63 L424.5,133.63 L425,133.64 L425.5,133.64 L426,133.64 L426.5,133.64 L427,133.64 L427.5,133.64 L428,133.64 L428.5,133.64 L429,133.65 L429.5,133.65 L430,133.65 L430.5,133.65 L431,133.65 L431.5,133.65 L432,133.65 L432.5,133.65 L433,133.65 L433.5,133.65 L434,133.66 L434.5,133.66 L435,133.66 L435.5,133.66 L436,133.66 L436.5,133.66 L437,133.66 L437.5,133.66 L438,133.66 L438.5,133.66 L439,133.66 L439.5,133.67 L440,133.67 L440.5,133.67 L441,133.67 L441.5,133.67 L442,133.67 L442.5,133.67 L443,133.67 L443.5,133.67 L444,133.67 L444.5,133.67 L445,133.67 L445.5,133.67 L446,133.67 L446.5,133.68 L447,133.68 L447.5,133.68 L448,133.68 L448.5,133.68 L449,133.68 L449.5,133.68 L450,133.68 L450.5,133.68 L451,133.68 L451.5,133.68 L452,133.68 L452.5,133.68 L453,133.68 L453.5,133.68 L454,133.68 L454.5,133.68 L455,133.68 L455.5,133.68 L456,133.68 L456.5,133.68 L457,133.68 L457.5,133.68 L458,133.68 L458.5,133.68 L459,133.68 L459.5,133.68 L460,133.68 L460.5,133.68 L461,133.68 L461.5,133.68 L462,133.68 L462.5,133.68 L463,133.68 L463.5,133.68 L464,133.68 L464.5,133.68 L465,133.68 L465.5,133.68 L466,133.68 L466.5,133.67 L467,133.67 L467.5,133.67 L468,133.67 L468.5,133.67 L469,133.67 L469.5,133.67 L470,133.67 L470.5,133.67 L471,133.66 L471.5,133.66 L472,133.66 L472.5,133.66 L473,133.66 L473.5,133.66 L474,133.65 L474.5,133.65 L475,133.65 L475.5,133.65 L476,133.65 L476.5,133.64 L477,133.64 L477.5,133.64 L478,133.64 L478.5,133.63 L479,133.63 L479.5,133.63 L480,133.62 L480.5,133.62 L481,133.61 L481.5,133.61 L482,133.6 L482.5,133.6 L483,133.59 L483.5,133.58 L484,133.58 L484.5,133.57 L485,133.56 L485.5,133.55 L486,133.54 L486.5,133.53 L487,133.52 L487.5,133.51 L488,133.49 L488.5,133.48 L489,133.46 L489.5,133.44 L490,133.42 L490.5,133.39 L491,133.37 L491.5,133.34 L492,133.31 L492.5,133.27 L493,133.23 L493.5,133.19 L494,133.15 L494.5,133.09 L495,133.04 L495.5,132.98 L496,132.91 L496.5,132.83 L497,132.75 L497.5,132.66 L498,132.56 L498.5,132.46 L499,132.34 L499.5,132.21 L500,132.07 L500.5,131.92 L501,131.76 L501.5,131.58 L502,131.38 L502.5,131.17 L503,130.95 L503.5,130.7 L504,130.44 L504.5,130.16 L505,129.85 L505.5,129.53 L506,129.18 L506.5,128.8 L507,128.4 L507.5,127.98 L508,127.52 L508.5,127.04 L509,126.53 L509.5,125.98 L510,125.41 L510.5,124.8 L511,124.16 L511.5,123.49 L512,122.78 L512.5,122.04 L513,121.26 L513.5,120.45 L514,119.6 L514.5,118.72 L515,117.8 L515.5,116.85 L516,115.86 L516.5,114.84 L517,113.79 L517.5,112.7 L518,111.59 L518.5,110.44 L519,109.27 L519.5,108.08 L520,106.86 L520.5,105.62 L521,104.37 L521.5,103.1 L522,101.81 L522.5,100.52 L523,99.22 L523.5,97.92 L524,96.62 L524.5,95.32 L525,94.04 L525.5,92.76 L526,91.5 L526.5,90.27 L527,89.06 L527.5,87.87 L528,86.73 L528.5,85.62 L529,84.55 L529.5,83.53 L530,82.56 L530.5,81.64 L531,80.79 L531.5,79.99 L532,79.27 L532.5,78.61 L533,78.02 L533.5,77.51 L534,77.08 L534.5,76.73 L535,76.46 L535.5,76.28 L536,76.18 L536.5,76.16 L537,76.23 L537.5,76.39 L538,76.63 L538.5,76.95 L539,77.36 L539.5,77.84 L540,78.41 L540.5,79.05 L541,79.76 L541.5,80.54 L542,81.39 L542.5,82.3 L543,83.27 L543.5,84.3 L544,85.37 L544.5,86.49 L545,87.66 L545.5,88.86 L546,90.09 L546.5,91.36 L547,92.65 L547.5,93.96 L548,95.28 L548.5,96.62 L549,97.97 L549.5,99.32 L550,100.67 L550.5,102.02 L551,103.36 L551.5,104.69 L552,106.01 L552.5,107.31 L553,108.59 L553.5,109.86 L554,111.09 L554.5,112.31 L555,113.49 L555.5,114.65 L556,115.77 L556.5,116.87 L557,117.93 L557.5,118.95 L558,119.94 L558.5,120.9 L559,121.82 L559.5,122.7 L560,123.55 L560.5,124.36 L561,125.13 L561.5,125.87 L562,126.57 L562.5,127.24 L563,127.87 L563.5,128.48 L564,129.04 L564.5,129.58 L565,130.09 L565.5,130.57 L566,131.01 L566.5,131.44 L567,131.83 L567.5,132.2 L568,132.55 L568.5,132.87 L569,133.17 L569.5,133.45 L570,133.71 L570.5,133.95 L571,134.18 L571.5,134.38 L572,134.58 L572.5,134.75 L573,134.92 L573.5,135.07 L574,135.21 L574.5,135.34 L575,135.46 L575.5,135.56 L576,135.66 L576.5,135.75 L577,135.84 L577.5,135.92 L578,135.99 L578.5,136.05 L579,136.11 L579.5,136.16 L580,136.21 L580.5,136.26 L581,136.3 L581.5,136.34 L582,136.37 L582.5,136.41 L583,136.44 L583.5,136.46 L584,136.49 L584.5,136.51 L585,136.53 L585.5,136.55 L586,136.57 L586.5,136.59 L587,136.61 L587.5,136.62 L588,136.64 L588.5,136.65 L589,136.66 L589.5,136.67 L590,136.69 L590.5,136.7 L591,136.71 L591.5,136.72 L592,136.73 L592.5,136.74 L593,136.74 L593.5,136.75 L594,136.76 L594.5,136.77 L595,136.78 L595.5,136.78 L596,136.79 L596.5,136.8 L597,136.8 L597.5,136.81 L598,136.82 L598.5,136.82 L599,136.83 L599.5,136.84 L600,136.84 L600.5,136.85 L601,136.85 L601.5,136.86 L602,136.86 L602.5,136.87 L603,136.87 L603.5,136.88 L604,136.89 L604.5,136.89 L605,136.9 L605.5,136.9 L606,136.91 L606.5,136.91 L607,136.91 L607.5,136.92 L608,136.92 L608.5,136.93 L609,136.93 L609.5,136.94 L610,136.94 L610.5,136.95 L611,136.95 L611.5,136.96 L612,136.96 L612.5,136.96 L613,136.97 L613.5,136.97 L614,136.98 L614.5,136.98 L615,136.98 L615.5,136.99 L616,136.99 L616.5,137 L617,137 L617.5,137 L618,137.01 L618.5,137.01 L619,137.01 L619.5,137.02 L620,137.02 L620.5,137.03 L621,137.03 L621.5,137.03 L622,137.04 L622.5,137.04 L623,137.04 L623.5,137.05 L624,137.05 L624.5,137.05 L625,137.06 L625.5,137.06 L626,137.06 L626.5,137.07 L627,137.07 L627.5,137.07" fill="none" stroke="#ee22e6" stroke-width="1.4"/>
<rect x="659.8" y="9.5" width="258.5" height="204.3" fill="none" stroke="#3c3c3c" stroke-width="1.3"/>
<line x1="659.8" y1="213.8" x2="918.3" y2="213.8" stroke="#2e2e2e" stroke-width="1.3"/>
<line x1="885.99" y1="213.8" x2="885.99" y2="212.2" stroke="#2e2e2e" stroke-width="1.1"/>
<line x1="853.67" y1="213.8" x2="853.67" y2="210.4" stroke="#2e2e2e" stroke-width="1.1"/>
<line x1="821.36" y1="213.8" x2="821.36" y2="212.2" stroke="#2e2e2e" stroke-width="1.1"/>
<line x1="789.05" y1="213.8" x2="789.05" y2="210.4" stroke="#2e2e2e" stroke-width="1.1"/>
<line x1="756.74" y1="213.8" x2="756.74" y2="212.2" stroke="#2e2e2e" stroke-width="1.1"/>
<line x1="724.42" y1="213.8" x2="724.42" y2="210.4" stroke="#2e2e2e" stroke-width="1.1"/>
<line x1="692.11" y1="213.8" x2="692.11" y2="212.2" stroke="#2e2e2e" stroke-width="1.1"/>
<text transform="translate(648.11,229.06) scale(1.0495,1)" font-size="14.67" font-weight="normal" fill="#000" stroke="#000" stroke-width="0.65">545</text>
<text transform="translate(712.73,229.06) scale(1.0595,1)" font-size="14.52" font-weight="normal" fill="#000" stroke="#000" stroke-width="0.65">540</text>
<text transform="translate(777.36,229.06) scale(1.0556,1)" font-size="14.59" font-weight="normal" fill="#000" stroke="#000" stroke-width="0.65">535</text>
<text transform="translate(841.98,229.06) scale(1.0595,1)" font-size="14.52" font-weight="normal" fill="#000" stroke="#000" stroke-width="0.65">530</text>
<text transform="translate(906.61,229.06) scale(1.0556,1)" font-size="14.59" font-weight="normal" fill="#000" stroke="#000" stroke-width="0.65">525</text>
<path d="M783,147.05 L783.5,146.99 L784,146.93 L784.5,146.89 L785,146.84 L785.5,146.79 L786,146.74 L786.5,146.69 L787,146.63 L787.5,146.57 L788,146.51 L788.5,146.44 L789,146.38 L789.5,146.3 L790,146.23 L790.5,146.15 L791,146.06 L791.5,145.98 L792,145.88 L792.5,145.78 L793,145.67 L793.5,145.56 L794,145.44 L794.5,145.3 L795,145.16 L795.5,145.01 L796,144.85 L796.5,144.67 L797,144.48 L797.5,144.27 L798,144.04 L798.5,143.8 L799,143.53 L799.5,143.24 L800,142.92 L800.5,142.56 L801,142.17 L801.5,141.74 L802,141.28 L802.5,140.77 L803,140.22 L803.5,139.62 L804,138.96 L804.5,138.25 L805,137.47 L805.5,136.63 L806,135.72 L806.5,134.73 L807,133.67 L807.5,132.52 L808,131.27 L808.5,129.94 L809,128.51 L809.5,126.97 L810,125.34 L810.5,123.59 L811,121.73 L811.5,119.76 L812,117.67 L812.5,115.47 L813,113.15 L813.5,110.72 L814,108.17 L814.5,105.51 L815,102.74 L815.5,99.86 L816,96.89 L816.5,93.82 L817,90.67 L817.5,87.44 L818,84.15 L818.5,80.8 L819,77.41 L819.5,74 L820,70.57 L820.5,67.15 L821,63.76 L821.5,60.42 L822,57.14 L822.5,53.96 L823,50.89 L823.5,47.97 L824,45.22 L824.5,42.66 L825,40.33 L825.5,38.24 L826,36.43 L826.5,34.91 L827,33.71 L827.5,32.84 L828,32.32 L828.5,32.14 L829,32.32 L829.5,32.85 L830,33.73 L830.5,34.93 L831,36.45 L831.5,38.27 L832,40.36 L832.5,42.7 L833,45.26 L833.5,48.02 L834,50.95 L834.5,54.02 L835,57.21 L835.5,60.49 L836,63.84 L836.5,67.23 L837,70.66 L837.5,74.09 L838,77.51 L838.5,80.9 L839,84.25 L839.5,87.55 L840,90.78 L840.5,93.94 L841,97.01 L841.5,99.99 L842,102.87 L842.5,105.65 L843,108.32 L843.5,110.87 L844,113.31 L844.5,115.63 L845,117.84 L845.5,119.93 L846,121.91 L846.5,123.77 L847,125.52 L847.5,127.16 L848,128.7 L848.5,130.14 L849,131.48 L849.5,132.73 L850,133.88 L850.5,134.95 L851,135.95 L851.5,136.86 L852,137.71 L852.5,138.49 L853,139.21 L853.5,139.87 L854,140.47 L854.5,141.03 L855,141.54 L855.5,142.01 L856,142.44 L856.5,142.84 L857,143.2 L857.5,143.54 L858,143.84 L858.5,144.13 L859,144.39 L859.5,144.63 L860,144.85 L860.5,145.06 L861,145.26 L861.5,145.44 L862,145.61 L862.5,145.77 L863,145.92 L863.5,146.07 L864,146.2 L864.5,146.33 L865,146.45 L865.5,146.56 L866,146.67 L866.5,146.77 L867,146.87 L867.5,146.96 L868,147.05 L868.5,147.14 L869,147.23 L869.5,147.31 L870,147.38 L870.5,147.46 L871,147.53 L871.5,147.6 L872,147.67 L872.5,147.74 L873,147.8 L873.5,147.86 L873.5,150.48 L873,150.47 L872.5,150.46 L872,150.46 L871.5,150.45 L871,150.44 L870.5,150.44 L870,150.43 L869.5,150.42 L869,150.42 L868.5,150.41 L868,150.4 L867.5,150.4 L867,150.39 L866.5,150.38 L866,150.38 L865.5,150.37 L865,150.36 L864.5,150.36 L864,150.35 L863.5,150.35 L863,150.34 L862.5,150.33 L862,150.33 L861.5,150.32 L861,150.31 L860.5,150.31 L860,150.3 L859.5,150.3 L859,150.3 L858.5,150.29 L858,150.29 L857.5,150.29 L857,150.29 L856.5,150.28 L856,150.28 L855.5,150.28 L855,150.28 L854.5,150.27 L854,150.27 L853.5,150.27 L853,150.27 L852.5,150.26 L852,150.26 L851.5,150.26 L851,150.25 L850.5,150.25 L850,150.25 L849.5,150.25 L849,150.25 L848.5,150.24 L848,150.24 L847.5,150.24 L847,150.24 L846.5,150.23 L846,150.23 L845.5,150.23 L845,150.23 L844.5,150.22 L844,150.22 L843.5,150.22 L843,150.22 L842.5,150.21 L842,150.21 L841.5,150.21 L841,150.21 L840.5,150.2 L840,150.2 L839.5,150.2 L839,150.19 L838.5,150.19 L838,150.19 L837.5,150.19 L837,150.19 L836.5,150.18 L836,150.18 L835.5,150.18 L835,150.18 L834.5,150.17 L834,150.17 L833.5,150.17 L833,150.17 L832.5,150.16 L832,150.16 L831.5,150.16 L831,150.16 L830.5,150.15 L830,150.15 L829.5,150.15 L829,150.15 L828.5,150.14 L828,150.14 L827.5,150.14 L827,150.13 L826.5,150.13 L826,150.13 L825.5,150.13 L825,150.12 L824.5,150.12 L824,150.12 L823.5,150.12 L823,150.12 L822.5,150.11 L822,150.11 L821.5,150.11 L821,150.11 L820.5,150.1 L820,150.1 L819.5,150.1 L819,150.09 L818.5,150.09 L818,150.09 L817.5,150.09 L817,150.09 L816.5,150.08 L816,150.08 L815.5,150.08 L815,150.07 L814.5,150.07 L814,150.07 L813.5,150.07 L813,150.06 L812.5,150.06 L812,150.06 L811.5,150.06 L811,150.06 L810.5,150.05 L810,150.05 L809.5,150.05 L809,150.05 L808.5,150.04 L808,150.04 L807.5,150.04 L807,150.03 L806.5,150.03 L806,150.03 L805.5,150.03 L805,150.03 L804.5,150.02 L804,150.02 L803.5,150.02 L803,150.01 L802.5,150.01 L802,150.01 L801.5,150.01 L801,150 L800.5,150 L800,150 L799.5,149.99 L799,149.97 L798.5,149.96 L798,149.95 L797.5,149.94 L797,149.93 L796.5,149.91 L796,149.9 L795.5,149.89 L795,149.88 L794.5,149.86 L794,149.85 L793.5,149.84 L793,149.82 L792.5,149.81 L792,149.8 L791.5,149.79 L791,149.78 L790.5,149.76 L790,149.75 L789.5,149.74 L789,149.72 L788.5,149.71 L788,149.7 L787.5,149.69 L787,149.67 L786.5,149.66 L786,149.65 L785.5,149.64 L785,149.62 L784.5,149.61 L784,149.6 L783.5,149.6 L783,149.6 Z" fill="#00ff30"/>
<path d="M783,149.6 L783.5,149.6 L784,149.6 L784.5,149.61 L785,149.62 L785.5,149.64 L786,149.65 L786.5,149.66 L787,149.67 L787.5,149.69 L788,149.7 L788.5,149.71 L789,149.72 L789.5,149.74 L790,149.75 L790.5,149.76 L791,149.78 L791.5,149.79 L792,149.8 L792.5,149.81 L793,149.82 L793.5,149.84 L794,149.85 L794.5,149.86 L795,149.88 L795.5,149.89 L796,149.9 L796.5,149.91 L797,149.93 L797.5,149.94 L798,149.95 L798.5,149.96 L799,149.97 L799.5,149.99 L800,150 L800.5,150 L801,150 L801.5,150.01 L802,150.01 L802.5,150.01 L803,150.01 L803.5,150.02 L804,150.02 L804.5,150.02 L805,150.03 L805.5,150.03 L806,150.03 L806.5,150.03 L807,150.03 L807.5,150.04 L808,150.04 L808.5,150.04 L809,150.05 L809.5,150.05 L810,150.05 L810.5,150.05 L811,150.06 L811.5,150.06 L812,150.06 L812.5,150.06 L813,150.06 L813.5,150.07 L814,150.07 L814.5,150.07 L815,150.07 L815.5,150.08 L816,150.08 L816.5,150.08 L817,150.09 L817.5,150.09 L818,150.09 L818.5,150.09 L819,150.09 L819.5,150.1 L820,150.1 L820.5,150.1 L821,150.11 L821.5,150.11 L822,150.11 L822.5,150.11 L823,150.12 L823.5,150.12 L824,150.12 L824.5,150.12 L825,150.12 L825.5,150.13 L826,150.13 L826.5,150.13 L827,150.13 L827.5,150.14 L828,150.14 L828.5,150.14 L829,150.15 L829.5,150.15 L830,150.15 L830.5,150.15 L831,150.16 L831.5,150.16 L832,150.16 L832.5,150.16 L833,150.17 L833.5,150.17 L834,150.17 L834.5,150.17 L835,150.18 L835.5,150.18 L836,150.18 L836.5,150.18 L837,150.19 L837.5,150.19 L838,150.19 L838.5,150.19 L839,150.19 L839.5,150.2 L840,150.2 L840.5,150.2 L841,150.21 L841.5,150.21 L842,150.21 L842.5,150.21 L843,150.22 L843.5,150.22 L844,150.22 L844.5,150.22 L845,150.23 L845.5,150.23 L846,150.23 L846.5,150.23 L847,150.24 L847.5,150.24 L848,150.24 L848.5,150.24 L849,150.25 L849.5,150.25 L850,150.25 L850.5,150.25 L851,150.25 L851.5,150.26 L852,150.26 L852.5,150.26 L853,150.27 L853.5,150.27 L854,150.27 L854.5,150.27 L855,150.28 L855.5,150.28 L856,150.28 L856.5,150.28 L857,150.29 L857.5,150.29 L858,150.29 L858.5,150.29 L859,150.3 L859.5,150.3 L860,150.3 L860.5,150.31 L861,150.31 L861.5,150.32 L862,150.33 L862.5,150.33 L863,150.34 L863.5,150.35 L864,150.35 L864.5,150.36 L865,150.36 L865.5,150.37 L866,150.38 L866.5,150.38 L867,150.39 L867.5,150.4 L868,150.4 L868.5,150.41 L869,150.42 L869.5,150.42 L870,150.43 L870.5,150.44 L871,150.44 L871.5,150.45 L872,150.46 L872.5,150.46 L873,150.47 L873.5,150.48" fill="none" stroke="#22e8f0" stroke-width="1.2"/>
<path d="M660.5,144.6 L661.5,142.73 L662.5,143.25 L663.5,143.66 L664.5,142.65 L665.5,143.43 L666.5,143.5 L667.5,141.99 L668.5,144.55 L669.5,144.24 L670.5,143.21 L671.5,143.69 L672.5,144.36 L673.5,143.74 L674.5,143.83 L675.5,142.81 L676.5,144.68 L677.5,144.36 L678.5,144.57 L679.5,143.02 L680.5,145.94 L681.5,144.66 L682.5,144.24 L683.5,146.49 L684.5,144.69 L685.5,143.49 L686.5,144.5 L687.5,142.87 L688.5,145.94 L689.5,144.69 L690.5,144.46 L691.5,146.17 L692.5,143.78 L693.5,145.82 L694.5,143.54 L695.5,144.87 L696.5,144.45 L697.5,146.92 L698.5,147.26 L699.5,145.44 L700.5,146.56 L701.5,145.72 L702.5,146.47 L703.5,145.36 L704.5,144.57 L705.5,144.57 L706.5,146.61 L707.5,148.36 L708.5,146.66 L709.5,146.02 L710.5,148.29 L711.5,146.86 L712.5,146.81 L713.5,147.02 L714.5,146.75 L715.5,146.67 L716.5,145.73 L717.5,147.55 L718.5,147.08 L719.5,148.32 L720.5,146.98 L721.5,145.67 L722.5,147.37 L723.5,149.06 L724.5,147.26 L725.5,146.88 L726.5,146.67 L727.5,146.87 L728.5,147.62 L729.5,146.9 L730.5,149.38 L731.5,147.84 L732.5,148.23 L733.5,149.43 L734.5,149.49 L735.5,147.94 L736.5,148.43 L737.5,148.8 L738.5,147.96 L739.5,146.53 L740.5,148.72 L741.5,148.93 L742.5,148.5 L743.5,147.29 L744.5,147.94 L745.5,147.58 L746.5,147.83 L747.5,149.26 L748.5,149.46 L749.5,148.68 L750.5,148.56 L751.5,148.66 L752.5,148.03 L753.5,147.95 L754.5,147.4 L755.5,147.94 L756.5,150 L757.5,148.73 L758.5,147.62 L759.5,147.48 L760.5,147.09 L761.5,148.16 L762.5,148.12 L763.5,146.42 L764.5,148.1 L765.5,147.09 L766.5,148.83 L767.5,147.62 L768.5,148.96 L769.5,146.93 L770.5,147.02 L771.5,147.47 L772.5,148.07 L773.5,147.55 L774.5,145.84 L775.5,147.02 L776.5,146.78 L777.5,146.27 L778.5,145.97 L779.5,148.01 L780.5,145.96 L781.5,145.41 L782.5,146.58 L783.5,145.95 L784.5,145.57 L785.5,146.12 L786.5,145.58 L787.5,145.12 L788.5,145.24 L789.5,144.09 L790.5,142.64 L791.5,142.09 L792.5,141.04 L793.5,140.65 L794.5,138.33 L795.5,136.39 L796.5,136.8 L797.5,134.18 L798.5,132.3 L799.5,133.12 L800.5,130.95 L801.5,130.91 L802.5,128.93 L803.5,127.38 L804.5,126.23 L805.5,125.74 L806.5,124.63 L807.5,122.53 L808.5,121.04 L809.5,117.49 L810.5,115.97 L811.5,110.86 L812.5,108.26 L813.5,104.43 L814.5,99.61 L815.5,94.46 L816.5,85.34 L817.5,80.86 L818.5,74.4 L819.5,67.15 L820.5,58.35 L821.5,52.59 L822.5,47.24 L823.5,38.09 L824.5,34.49 L825.5,30.67 L826.5,25.85 L827.5,25.17 L828.5,23.33 L829.5,24.7 L830.5,27.26 L831.5,32.03 L832.5,36.72 L833.5,43.47 L834.5,48.22 L835.5,55.82 L836.5,63.89 L837.5,70.68 L838.5,76.04 L839.5,84.68 L840.5,90.2 L841.5,97.16 L842.5,102.85 L843.5,108.99 L844.5,112.85 L845.5,115.45 L846.5,119.81 L847.5,125.18 L848.5,127.34 L849.5,131.27 L850.5,132.81 L851.5,133.89 L852.5,137.25 L853.5,137.02 L854.5,137.15 L855.5,141.92 L856.5,139.25 L857.5,142.32 L858.5,143.26 L859.5,143.12 L860.5,141.98 L861.5,144.85 L862.5,143.03 L863.5,143.47 L864.5,144.66 L865.5,145.98 L866.5,145.8 L867.5,146.49 L868.5,145.58 L869.5,146.03 L870.5,145.35 L871.5,146.26 L872.5,147.25 L873.5,146.6 L874.5,147.44 L875.5,146.64 L876.5,146.75 L877.5,147.44 L878.5,147.35 L879.5,148.17 L880.5,147.91 L881.5,149.42 L882.5,147.75 L883.5,147.84 L884.5,147.19 L885.5,148.24 L886.5,148.91 L887.5,147.71 L888.5,148.41 L889.5,149.17 L890.5,148.48 L891.5,148.2 L892.5,149.6 L893.5,148.88 L894.5,149.21 L895.5,149.96 L896.5,150 L897.5,148.71 L898.5,148.6 L899.5,149.38 L900.5,149.06 L901.5,147.52 L902.5,150.42 L903.5,149.34 L904.5,150.03 L905.5,148.35 L906.5,150.61 L907.5,148.96 L908.5,149.43 L909.5,148.31 L910.5,149.46 L911.5,149.44 L912.5,149.52 L913.5,150.11" fill="none" stroke="#1a1a1a" stroke-width="0.7"/>
<path d="M660.5,143.44 L661,143.47 L661.5,143.51 L662,143.54 L662.5,143.58 L663,143.61 L663.5,143.65 L664,143.68 L664.5,143.72 L665,143.75 L665.5,143.79 L666,143.82 L666.5,143.86 L667,143.89 L667.5,143.93 L668,143.96 L668.5,144 L669,144.03 L669.5,144.07 L670,144.1 L670.5,144.14 L671,144.17 L671.5,144.21 L672,144.24 L672.5,144.28 L673,144.31 L673.5,144.35 L674,144.38 L674.5,144.42 L675,144.45 L675.5,144.48 L676,144.52 L676.5,144.55 L677,144.59 L677.5,144.62 L678,144.66 L678.5,144.69 L679,144.73 L679.5,144.76 L680,144.8 L680.5,144.83 L681,144.87 L681.5,144.9 L682,144.93 L682.5,144.97 L683,145 L683.5,145.04 L684,145.07 L684.5,145.11 L685,145.14 L685.5,145.18 L686,145.21 L686.5,145.24 L687,145.28 L687.5,145.31 L688,145.35 L688.5,145.38 L689,145.41 L689.5,145.45 L690,145.48 L690.5,145.52 L691,145.55 L691.5,145.59 L692,145.62 L692.5,145.65 L693,145.69 L693.5,145.72 L694,145.76 L694.5,145.79 L695,145.82 L695.5,145.86 L696,145.89 L696.5,145.93 L697,145.96 L697.5,145.99 L698,146.03 L698.5,146.06 L699,146.09 L699.5,146.13 L700,146.16 L700.5,146.2 L701,146.24 L701.5,146.28 L702,146.32 L702.5,146.36 L703,146.4 L703.5,146.44 L704,146.48 L704.5,146.52 L705,146.56 L705.5,146.59 L706,146.63 L706.5,146.67 L707,146.71 L707.5,146.75 L708,146.79 L708.5,146.83 L709,146.87 L709.5,146.91 L710,146.95 L710.5,146.99 L711,147.02 L711.5,147.06 L712,147.1 L712.5,147.14 L713,147.18 L713.5,147.22 L714,147.26 L714.5,147.29 L715,147.33 L715.5,147.37 L716,147.41 L716.5,147.45 L717,147.49 L717.5,147.52 L718,147.56 L718.5,147.6 L719,147.64 L719.5,147.68 L720,147.71 L720.5,147.75 L721,147.79 L721.5,147.83 L722,147.87 L722.5,147.9 L723,147.94 L723.5,147.98 L724,148.02 L724.5,148.05 L725,148.09 L725.5,148.13 L726,148.16 L726.5,148.2 L727,148.24 L727.5,148.28 L728,148.31 L728.5,148.35 L729,148.39 L729.5,148.42 L730,148.46 L730.5,148.49 L731,148.53 L731.5,148.57 L732,148.6 L732.5,148.61 L733,148.61 L733.5,148.61 L734,148.61 L734.5,148.62 L735,148.62 L735.5,148.62 L736,148.62 L736.5,148.63 L737,148.63 L737.5,148.63 L738,148.63 L738.5,148.63 L739,148.63 L739.5,148.63 L740,148.64 L740.5,148.64 L741,148.64 L741.5,148.64 L742,148.64 L742.5,148.64 L743,148.64 L743.5,148.64 L744,148.64 L744.5,148.64 L745,148.64 L745.5,148.64 L746,148.64 L746.5,148.64 L747,148.64 L747.5,148.64 L748,148.63 L748.5,148.63 L749,148.63 L749.5,148.63 L750,148.63 L750.5,148.62 L751,148.62 L751.5,148.62 L752,148.62 L752.5,148.61 L753,148.61 L753.5,148.61 L754,148.6 L754.5,148.6 L755,148.59 L755.5,148.59 L756,148.58 L756.5,148.58 L757,148.57 L757.5,148.57 L758,148.56 L758.5,148.55 L759,148.55 L759.5,148.54 L760,148.53 L760.5,148.51 L761,148.49 L761.5,148.47 L762,148.45 L762.5,148.43 L763,148.41 L763.5,148.39 L764,148.37 L764.5,148.35 L765,148.33 L765.5,148.3 L766,148.28 L766.5,148.26 L767,148.23 L767.5,148.21 L768,148.18 L768.5,148.16 L769,148.13 L769.5,148.1 L770,148.07 L770.5,148.05 L771,148.02 L771.5,147.99 L772,147.96 L772.5,147.92 L773,147.89 L773.5,147.86 L774,147.83 L774.5,147.79 L775,147.76 L775.5,147.72 L776,147.68 L776.5,147.65 L777,147.61 L777.5,147.57 L778,147.53 L778.5,147.48 L779,147.44 L779.5,147.4 L780,147.35 L780.5,147.3 L781,147.25 L781.5,147.2 L782,147.15 L782.5,147.1 L783,147.05 L783.5,146.99 L784,146.93 L784.5,146.89 L785,146.84 L785.5,146.79 L786,146.74 L786.5,146.69 L787,146.63 L787.5,146.57 L788,146.51 L788.5,146.44 L789,146.38 L789.5,146.3 L790,146.23 L790.5,146.15 L791,146.06 L791.5,145.98 L792,145.88 L792.5,145.78 L793,145.67 L793.5,145.56 L794,145.44 L794.5,145.3 L795,145.16 L795.5,145.01 L796,144.85 L796.5,144.67 L797,144.48 L797.5,144.27 L798,144.04 L798.5,143.8 L799,143.53 L799.5,143.24 L800,142.92 L800.5,142.56 L801,142.17 L801.5,141.74 L802,141.28 L802.5,140.77 L803,140.22 L803.5,139.62 L804,138.96 L804.5,138.25 L805,137.47 L805.5,136.63 L806,135.72 L806.5,134.73 L807,133.67 L807.5,132.52 L808,131.27 L808.5,129.94 L809,128.51 L809.5,126.97 L810,125.34 L810.5,123.59 L811,121.73 L811.5,119.76 L812,117.67 L812.5,115.47 L813,113.15 L813.5,110.72 L814,108.17 L814.5,105.51 L815,102.74 L815.5,99.86 L816,96.89 L816.5,93.82 L817,90.67 L817.5,87.44 L818,84.15 L818.5,80.8 L819,77.41 L819.5,74 L820,70.57 L820.5,67.15 L821,63.76 L821.5,60.42 L822,57.14 L822.5,53.96 L823,50.89 L823.5,47.97 L824,45.22 L824.5,42.66 L825,40.33 L825.5,38.24 L826,36.43 L826.5,34.91 L827,33.71 L827.5,32.84 L828,32.32 L828.5,32.14 L829,32.32 L829.5,32.85 L830,33.73 L830.5,34.93 L831,36.45 L831.5,38.27 L832,40.36 L832.5,42.7 L833,45.26 L833.5,48.02 L834,50.95 L834.5,54.02 L835,57.21 L835.5,60.49 L836,63.84 L836.5,67.23 L837,70.66 L837.5,74.09 L838,77.51 L838.5,80.9 L839,84.25 L839.5,87.55 L840,90.78 L840.5,93.94 L841,97.01 L841.5,99.99 L842,102.87 L842.5,105.65 L843,108.32 L843.5,110.87 L844,113.31 L844.5,115.63 L845,117.84 L845.5,119.93 L846,121.91 L846.5,123.77 L847,125.52 L847.5,127.16 L848,128.7 L848.5,130.14 L849,131.48 L849.5,132.73 L850,133.88 L850.5,134.95 L851,135.95 L851.5,136.86 L852,137.71 L852.5,138.49 L853,139.21 L853.5,139.87 L854,140.47 L854.5,141.03 L855,141.54 L855.5,142.01 L856,142.44 L856.5,142.84 L857,143.2 L857.5,143.54 L858,143.84 L858.5,144.13 L859,144.39 L859.5,144.63 L860,144.85 L860.5,145.06 L861,145.26 L861.5,145.44 L862,145.61 L862.5,145.77 L863,145.92 L863.5,146.07 L864,146.2 L864.5,146.33 L865,146.45 L865.5,146.56 L866,146.67 L866.5,146.77 L867,146.87 L867.5,146.96 L868,147.05 L868.5,147.14 L869,147.23 L869.5,147.31 L870,147.38 L870.5,147.46 L871,147.53 L871.5,147.6 L872,147.67 L872.5,147.74 L873,147.8 L873.5,147.86 L874,147.92 L874.5,147.98 L875,148.04 L875.5,148.1 L876,148.15 L876.5,148.2 L877,148.25 L877.5,148.3 L878,148.35 L878.5,148.4 L879,148.45 L879.5,148.49 L880,148.54 L880.5,148.58 L881,148.62 L881.5,148.66 L882,148.7 L882.5,148.74 L883,148.78 L883.5,148.82 L884,148.86 L884.5,148.89 L885,148.93 L885.5,148.96 L886,149 L886.5,149.03 L887,149.07 L887.5,149.1 L888,149.13 L888.5,149.16 L889,149.19 L889.5,149.22 L890,149.25 L890.5,149.28 L891,149.31 L891.5,149.34 L892,149.36 L892.5,149.39 L893,149.42 L893.5,149.44 L894,149.47 L894.5,149.49 L895,149.52 L895.5,149.54 L896,149.57 L896.5,149.59 L897,149.61 L897.5,149.64 L898,149.66 L898.5,149.68 L899,149.7 L899.5,149.72 L900,149.74 L900.5,149.77 L901,149.79 L901.5,149.81 L902,149.83 L902.5,149.85 L903,149.87 L903.5,149.89 L904,149.9 L904.5,149.92 L905,149.94 L905.5,149.96 L906,149.98 L906.5,150 L907,150.01 L907.5,150.03 L908,150.05 L908.5,150.07 L909,150.08 L909.5,150.1 L910,150.12 L910.5,150.13 L911,150.15 L911.5,150.17 L912,150.18 L912.5,150.2 L913,150.21 L913.5,150.23 L914,150.24" fill="none" stroke="#10e810" stroke-width="1.6"/>
<line x1="77.8" y1="252" x2="342.6" y2="252" stroke="#4a4a4a" stroke-width="1.0"/>
<line x1="77.8" y1="251.5" x2="77.8" y2="457.7" stroke="#8c8c8c" stroke-width="1.8"/>
<line x1="342.6" y1="251.5" x2="342.6" y2="457.7" stroke="#8c8c8c" stroke-width="1.8"/>
<line x1="76.9" y1="457.7" x2="343.5" y2="457.7" stroke="#555" stroke-width="1.8"/>
<line x1="319.91" y1="457.7" x2="319.91" y2="454.3" stroke="#555" stroke-width="1.1"/>
<line x1="296.65" y1="457.7" x2="296.65" y2="456.1" stroke="#555" stroke-width="1.1"/>
<line x1="273.4" y1="457.7" x2="273.4" y2="454.3" stroke="#555" stroke-width="1.1"/>
<line x1="250.15" y1="457.7" x2="250.15" y2="456.1" stroke="#555" stroke-width="1.1"/>
<line x1="226.9" y1="457.7" x2="226.9" y2="454.3" stroke="#555" stroke-width="1.1"/>
<line x1="203.64" y1="457.7" x2="203.64" y2="456.1" stroke="#555" stroke-width="1.1"/>
<line x1="180.39" y1="457.7" x2="180.39" y2="454.3" stroke="#555" stroke-width="1.1"/>
<line x1="157.14" y1="457.7" x2="157.14" y2="456.1" stroke="#555" stroke-width="1.1"/>
<line x1="133.89" y1="457.7" x2="133.89" y2="454.3" stroke="#555" stroke-width="1.1"/>
<line x1="110.63" y1="457.7" x2="110.63" y2="456.1" stroke="#555" stroke-width="1.1"/>
<line x1="87.38" y1="457.7" x2="87.38" y2="454.3" stroke="#555" stroke-width="1.1"/>
<text transform="translate(79.59,472) scale(0.9193,1)" font-size="16.34" font-weight="normal" fill="#000">77</text>
<text transform="translate(126.09,471.84) scale(0.9443,1)" font-size="15.93" font-weight="normal" fill="#000">76</text>
<text transform="translate(172.59,471.84) scale(0.9437,1)" font-size="16.1" font-weight="normal" fill="#000">75</text>
<text transform="translate(219.12,472) scale(0.9109,1)" font-size="16.26" font-weight="normal" fill="#000">74</text>
<text transform="translate(265.6,471.84) scale(0.9541,1)" font-size="15.93" font-weight="normal" fill="#000">73</text>
<text transform="translate(312.09,472) scale(0.9575,1)" font-size="16.16" font-weight="normal" fill="#000">72</text>
<path d="M79,387.3 L79.5,387.32 L80,387.34 L80.5,387.36 L81,387.38 L81.5,387.4 L82,387.42 L82.5,387.44 L83,387.46 L83.5,387.48 L84,387.5 L84.5,387.51 L85,387.53 L85.5,387.54 L86,387.56 L86.5,387.57 L87,387.59 L87.5,387.6 L88,387.61 L88.5,387.63 L89,387.64 L89.5,387.65 L90,387.65 L90.5,387.66 L91,387.67 L91.5,387.68 L92,387.68 L92.5,387.69 L93,387.69 L93.5,387.69 L94,387.69 L94.5,387.69 L95,387.69 L95.5,387.69 L96,387.68 L96.5,387.68 L97,387.67 L97.5,387.66 L98,387.65 L98.5,387.64 L99,387.63 L99.5,387.62 L100,387.6 L100.5,387.58 L101,387.57 L101.5,387.54 L102,387.52 L102.5,387.5 L103,387.47 L103.5,387.44 L104,387.41 L104.5,387.38 L105,387.35 L105.5,387.31 L106,387.27 L106.5,387.23 L107,387.19 L107.5,387.15 L108,387.11 L108.5,387.06 L109,387.01 L109.5,386.96 L110,386.9 L110.5,386.84 L111,386.79 L111.5,386.72 L112,386.66 L112.5,386.59 L113,386.52 L113.5,386.45 L114,386.38 L114.5,386.3 L115,386.22 L115.5,386.14 L116,386.06 L116.5,385.97 L117,385.88 L117.5,385.79 L118,385.7 L118.5,385.6 L119,385.5 L119.5,385.4 L120,385.29 L120.5,385.19 L121,385.08 L121.5,384.97 L122,384.85 L122.5,384.74 L123,384.62 L123.5,384.5 L124,384.37 L124.5,384.25 L125,384.12 L125.5,383.99 L126,383.86 L126.5,383.72 L127,383.59 L127.5,383.45 L128,383.31 L128.5,383.17 L129,383.02 L129.5,382.88 L130,382.73 L130.5,382.58 L131,382.43 L131.5,382.28 L132,382.13 L132.5,381.98 L133,381.82 L133.5,381.66 L134,381.51 L134.5,381.35 L135,381.19 L135.5,381.03 L136,380.87 L136.5,380.71 L137,380.54 L137.5,380.38 L138,380.22 L138.5,380.05 L139,379.89 L139.5,379.72 L140,379.56 L140.5,379.4 L141,379.23 L141.5,379.07 L142,378.9 L142.5,378.74 L143,378.57 L143.5,378.41 L144,378.25 L144.5,378.09 L145,377.92 L145.5,377.76 L146,377.6 L146.5,377.44 L147,377.28 L147.5,377.12 L148,376.97 L148.5,376.81 L149,376.65 L149.5,376.5 L150,376.34 L150.5,376.19 L151,376.04 L151.5,375.89 L152,375.74 L152.5,375.59 L153,375.44 L153.5,375.29 L154,375.15 L154.5,375 L155,374.86 L155.5,374.72 L156,374.58 L156.5,374.44 L157,374.3 L157.5,374.17 L158,374.03 L158.5,373.9 L159,373.77 L159.5,373.64 L160,373.51 L160.5,373.38 L161,373.26 L161.5,373.13 L162,373.01 L162.5,372.88 L163,372.76 L163.5,372.64 L164,372.53 L164.5,372.41 L165,372.29 L165.5,372.18 L166,372.07 L166.5,371.95 L167,371.84 L167.5,371.73 L168,371.62 L168.5,371.52 L169,371.41 L169.5,371.31 L170,371.2 L170.5,371.1 L171,371 L171.5,370.9 L172,370.8 L172.5,370.71 L173,370.61 L173.5,370.52 L174,370.42 L174.5,370.33 L175,370.24 L175.5,370.15 L176,370.06 L176.5,369.98 L177,369.89 L177.5,369.81 L178,369.73 L178.5,369.65 L179,369.57 L179.5,369.49 L180,369.42 L180.5,369.34 L181,369.27 L181.5,369.2 L182,369.13 L182.5,369.06 L183,369 L183.5,368.94 L184,368.88 L184.5,368.82 L185,368.76 L185.5,368.71 L186,368.66 L186.5,368.61 L187,368.56 L187.5,368.52 L188,368.48 L188.5,368.44 L189,368.4 L189.5,368.37 L190,368.34 L190.5,368.31 L191,368.29 L191.5,368.3 L192,368.31 L192.5,368.32 L193,368.34 L193.5,368.36 L194,368.39 L194.5,368.42 L195,368.45 L195.5,368.48 L196,368.52 L196.5,368.57 L197,368.61 L197.5,368.67 L198,368.72 L198.5,368.78 L199,368.84 L199.5,368.91 L200,368.98 L200.5,369.06 L201,369.14 L201.5,369.22 L202,369.31 L202.5,369.4 L203,369.5 L203.5,369.6 L204,369.71 L204.5,369.82 L205,369.93 L205.5,370.05 L206,370.17 L206.5,370.3 L207,370.43 L207.5,370.57 L208,370.71 L208.5,370.86 L209,371.01 L209.5,371.16 L210,371.32 L210.5,371.47 L211,371.62 L211.5,371.77 L212,371.93 L212.5,372.1 L213,372.27 L213.5,372.44 L214,372.61 L214.5,372.79 L215,372.98 L215.5,373.17 L216,373.36 L216.5,373.55 L217,373.75 L217.5,373.96 L218,374.16 L218.5,374.37 L219,374.58 L219.5,374.8 L220,375.02 L220.5,375.24 L221,375.47 L221.5,375.7 L222,375.93 L222.5,376.17 L223,376.4 L223.5,376.64 L224,376.88 L224.5,377.13 L225,377.38 L225.5,377.63 L226,377.88 L226.5,378.13 L227,378.38 L227.5,378.64 L228,378.9 L228.5,379.16 L229,379.42 L229.5,379.68 L230,379.95 L230.5,380.21 L231,380.48 L231.5,380.75 L232,381.01 L232.5,381.28 L233,381.55 L233.5,381.82 L234,382.09 L234.5,382.36 L235,382.63 L235.5,382.9 L236,383.17 L236.5,383.44 L237,383.71 L237.5,383.98 L238,384.25 L238.5,384.52 L239,384.78 L239.5,385.05 L240,385.32 L240.5,385.58 L241,385.85 L241.5,386.11 L242,386.37 L242.5,386.64 L243,386.9 L243.5,387.15 L244,387.41 L244.5,387.67 L245,387.92 L245.5,388.17 L246,388.42 L246.5,388.67 L247,388.92 L247.5,389.17 L248,389.41 L248.5,389.65 L249,389.89 L249.5,390.13 L250,390.36 L250.5,390.6 L251,390.83 L251.5,391.06 L252,391.28 L252.5,391.51 L253,391.73 L253.5,391.95 L254,392.17 L254.5,392.38 L255,392.6 L255.5,392.81 L256,393.01 L256.5,393.22 L257,393.42 L257.5,393.62 L258,393.82 L258.5,394.01 L259,394.21 L259.5,394.4 L260,394.59 L260.5,394.77 L261,394.95 L261.5,395.13 L262,395.31 L262.5,395.48 L263,395.65 L263.5,395.82 L264,395.98 L264.5,396.15 L265,396.31 L265.5,396.46 L266,396.62 L266.5,396.77 L267,396.92 L267.5,397.07 L268,397.21 L268.5,397.36 L269,397.5 L269.5,397.64 L270,397.77 L270.5,397.91 L271,398.04 L271.5,398.17 L272,398.3 L272.5,398.42 L273,398.54 L273.5,398.67 L274,398.78 L274.5,398.9 L275,399.02 L275.5,399.13 L276,399.24 L276.5,399.35 L277,399.46 L277.5,399.56 L278,399.67 L278.5,399.77 L279,399.87 L279.5,399.97 L280,400.06 L280.5,400.16 L281,400.25 L281.5,400.34 L282,400.43 L282.5,400.52 L283,400.61 L283.5,400.7 L284,400.78 L284.5,400.86 L285,400.95 L285.5,401.03 L286,401.11 L286.5,401.18 L287,401.26 L287.5,401.33 L288,401.41 L288.5,401.48 L289,401.55 L289.5,401.62 L290,401.69 L290.5,401.76 L291,401.83 L291.5,401.9 L292,401.96 L292.5,402.03 L293,402.09 L293.5,402.15 L294,402.22 L294.5,402.28 L295,402.34 L295.5,402.4 L296,402.46 L296.5,402.52 L297,402.57 L297.5,402.63 L298,402.69 L298.5,402.74 L299,402.8 L299.5,402.85 L300,402.9 L300.5,402.96 L301,403.01 L301.5,403.06 L302,403.11 L302.5,403.16 L303,403.21 L303.5,403.26 L304,403.31 L304.5,403.36 L305,403.41 L305.5,403.46 L306,403.51 L306.5,403.55 L307,403.6 L307.5,403.65 L308,403.7 L308.5,403.74 L309,403.78 L309.5,403.81 L310,403.85 L310.5,403.88 L311,403.92 L311.5,403.95 L312,403.98 L312.5,404.02 L313,404.05 L313.5,404.08 L314,404.11 L314.5,404.15 L315,404.18 L315.5,404.21 L316,404.24 L316.5,404.27 L317,404.31 L317.5,404.34 L318,404.37 L318.5,404.4 L319,404.43 L319.5,404.46 L320,404.49 L320.5,404.52 L321,404.55 L321.5,404.58 L322,404.61 L322.5,404.64 L323,404.67 L323.5,404.7 L324,404.73 L324.5,404.76 L325,404.79 L325.5,404.82 L326,404.85 L326.5,404.88 L327,404.91 L327.5,404.94 L328,404.97 L328.5,404.99 L329,405.02 L329.5,405.05 L330,405.08 L330.5,405.11 L331,405.14 L331.5,405.17 L332,405.2 L332.5,405.23 L333,405.25 L333.5,405.28 L334,405.31 L334.5,405.34 L335,405.37 L335.5,405.4 L336,405.42 L336.5,405.45 L337,405.48 L337.5,405.51 L338,405.54 L338.5,405.57 L338.5,405.57 L338,405.54 L337.5,405.52 L337,405.49 L336.5,405.46 L336,405.43 L335.5,405.4 L335,405.38 L334.5,405.35 L334,405.32 L333.5,405.29 L333,405.26 L332.5,405.24 L332,405.21 L331.5,405.18 L331,405.15 L330.5,405.12 L330,405.1 L329.5,405.07 L329,405.04 L328.5,405.01 L328,404.98 L327.5,404.96 L327,404.93 L326.5,404.9 L326,404.87 L325.5,404.85 L325,404.82 L324.5,404.79 L324,404.76 L323.5,404.73 L323,404.71 L322.5,404.68 L322,404.65 L321.5,404.62 L321,404.59 L320.5,404.57 L320,404.54 L319.5,404.51 L319,404.48 L318.5,404.45 L318,404.43 L317.5,404.4 L317,404.37 L316.5,404.34 L316,404.31 L315.5,404.29 L315,404.26 L314.5,404.23 L314,404.2 L313.5,404.17 L313,404.15 L312.5,404.12 L312,404.09 L311.5,404.06 L311,404.03 L310.5,404.01 L310,403.98 L309.5,403.95 L309,403.92 L308.5,403.89 L308,403.85 L307.5,403.82 L307,403.78 L306.5,403.74 L306,403.7 L305.5,403.66 L305,403.62 L304.5,403.58 L304,403.54 L303.5,403.51 L303,403.47 L302.5,403.43 L302,403.39 L301.5,403.35 L301,403.31 L300.5,403.27 L300,403.24 L299.5,403.2 L299,403.16 L298.5,403.12 L298,403.08 L297.5,403.04 L297,403 L296.5,402.97 L296,402.93 L295.5,402.89 L295,402.85 L294.5,402.81 L294,402.77 L293.5,402.73 L293,402.69 L292.5,402.66 L292,402.62 L291.5,402.58 L291,402.54 L290.5,402.5 L290,402.46 L289.5,402.42 L289,402.39 L288.5,402.35 L288,402.31 L287.5,402.27 L287,402.23 L286.5,402.19 L286,402.15 L285.5,402.12 L285,402.08 L284.5,402.04 L284,402 L283.5,401.96 L283,401.92 L282.5,401.88 L282,401.85 L281.5,401.81 L281,401.77 L280.5,401.73 L280,401.69 L279.5,401.65 L279,401.61 L278.5,401.57 L278,401.54 L277.5,401.5 L277,401.46 L276.5,401.42 L276,401.38 L275.5,401.34 L275,401.3 L274.5,401.27 L274,401.23 L273.5,401.19 L273,401.15 L272.5,401.11 L272,401.07 L271.5,401.03 L271,401 L270.5,400.96 L270,400.92 L269.5,400.88 L269,400.84 L268.5,400.8 L268,400.76 L267.5,400.72 L267,400.69 L266.5,400.65 L266,400.61 L265.5,400.57 L265,400.53 L264.5,400.49 L264,400.45 L263.5,400.42 L263,400.38 L262.5,400.34 L262,400.3 L261.5,400.26 L261,400.22 L260.5,400.18 L260,400.13 L259.5,400.09 L259,400.05 L258.5,400.01 L258,399.97 L257.5,399.93 L257,399.89 L256.5,399.85 L256,399.8 L255.5,399.76 L255,399.72 L254.5,399.68 L254,399.64 L253.5,399.6 L253,399.56 L252.5,399.51 L252,399.47 L251.5,399.43 L251,399.39 L250.5,399.35 L250,399.31 L249.5,399.27 L249,399.23 L248.5,399.18 L248,399.14 L247.5,399.1 L247,399.06 L246.5,399.02 L246,398.98 L245.5,398.94 L245,398.89 L244.5,398.85 L244,398.81 L243.5,398.77 L243,398.73 L242.5,398.69 L242,398.65 L241.5,398.6 L241,398.56 L240.5,398.52 L240,398.48 L239.5,398.44 L239,398.4 L238.5,398.36 L238,398.32 L237.5,398.27 L237,398.23 L236.5,398.19 L236,398.15 L235.5,398.11 L235,398.07 L234.5,398.03 L234,397.98 L233.5,397.94 L233,397.9 L232.5,397.86 L232,397.82 L231.5,397.78 L231,397.74 L230.5,397.7 L230,397.65 L229.5,397.61 L229,397.57 L228.5,397.53 L228,397.49 L227.5,397.45 L227,397.41 L226.5,397.36 L226,397.32 L225.5,397.28 L225,397.24 L224.5,397.2 L224,397.16 L223.5,397.12 L223,397.07 L222.5,397.03 L222,396.99 L221.5,396.95 L221,396.91 L220.5,396.87 L220,396.83 L219.5,396.79 L219,396.74 L218.5,396.7 L218,396.66 L217.5,396.62 L217,396.58 L216.5,396.54 L216,396.5 L215.5,396.45 L215,396.41 L214.5,396.37 L214,396.33 L213.5,396.29 L213,396.25 L212.5,396.21 L212,396.17 L211.5,396.12 L211,396.08 L210.5,396.04 L210,396 L209.5,395.94 L209,395.88 L208.5,395.83 L208,395.77 L207.5,395.71 L207,395.65 L206.5,395.59 L206,395.54 L205.5,395.48 L205,395.42 L204.5,395.36 L204,395.31 L203.5,395.25 L203,395.19 L202.5,395.13 L202,395.07 L201.5,395.02 L201,394.96 L200.5,394.9 L200,394.84 L199.5,394.78 L199,394.73 L198.5,394.67 L198,394.61 L197.5,394.55 L197,394.49 L196.5,394.44 L196,394.38 L195.5,394.32 L195,394.26 L194.5,394.21 L194,394.15 L193.5,394.09 L193,394.03 L192.5,393.97 L192,393.92 L191.5,393.86 L191,393.8 L190.5,393.77 L190,393.74 L189.5,393.72 L189,393.69 L188.5,393.66 L188,393.63 L187.5,393.6 L187,393.57 L186.5,393.55 L186,393.52 L185.5,393.49 L185,393.46 L184.5,393.43 L184,393.4 L183.5,393.38 L183,393.35 L182.5,393.32 L182,393.29 L181.5,393.26 L181,393.23 L180.5,393.21 L180,393.18 L179.5,393.15 L179,393.12 L178.5,393.09 L178,393.06 L177.5,393.04 L177,393.01 L176.5,392.98 L176,392.95 L175.5,392.92 L175,392.89 L174.5,392.87 L174,392.84 L173.5,392.81 L173,392.78 L172.5,392.75 L172,392.72 L171.5,392.7 L171,392.67 L170.5,392.64 L170,392.61 L169.5,392.58 L169,392.55 L168.5,392.53 L168,392.5 L167.5,392.47 L167,392.44 L166.5,392.41 L166,392.38 L165.5,392.36 L165,392.33 L164.5,392.3 L164,392.27 L163.5,392.24 L163,392.22 L162.5,392.19 L162,392.16 L161.5,392.13 L161,392.1 L160.5,392.07 L160,392.05 L159.5,392.02 L159,391.99 L158.5,391.96 L158,391.93 L157.5,391.9 L157,391.88 L156.5,391.85 L156,391.82 L155.5,391.79 L155,391.76 L154.5,391.73 L154,391.71 L153.5,391.68 L153,391.65 L152.5,391.62 L152,391.59 L151.5,391.56 L151,391.54 L150.5,391.51 L150,391.48 L149.5,391.45 L149,391.42 L148.5,391.39 L148,391.36 L147.5,391.34 L147,391.31 L146.5,391.28 L146,391.25 L145.5,391.22 L145,391.19 L144.5,391.16 L144,391.13 L143.5,391.1 L143,391.07 L142.5,391.04 L142,391.01 L141.5,390.98 L141,390.95 L140.5,390.92 L140,390.9 L139.5,390.87 L139,390.84 L138.5,390.81 L138,390.78 L137.5,390.75 L137,390.72 L136.5,390.69 L136,390.66 L135.5,390.63 L135,390.6 L134.5,390.57 L134,390.54 L133.5,390.51 L133,390.48 L132.5,390.46 L132,390.43 L131.5,390.4 L131,390.37 L130.5,390.34 L130,390.31 L129.5,390.28 L129,390.25 L128.5,390.22 L128,390.19 L127.5,390.16 L127,390.13 L126.5,390.1 L126,390.07 L125.5,390.04 L125,390.02 L124.5,389.99 L124,389.96 L123.5,389.93 L123,389.9 L122.5,389.87 L122,389.84 L121.5,389.81 L121,389.78 L120.5,389.75 L120,389.72 L119.5,389.69 L119,389.66 L118.5,389.63 L118,389.6 L117.5,389.57 L117,389.55 L116.5,389.52 L116,389.49 L115.5,389.46 L115,389.43 L114.5,389.4 L114,389.37 L113.5,389.34 L113,389.31 L112.5,389.28 L112,389.25 L111.5,389.22 L111,389.19 L110.5,389.16 L110,389.13 L109.5,389.11 L109,389.08 L108.5,389.05 L108,389.02 L107.5,388.99 L107,388.96 L106.5,388.93 L106,388.9 L105.5,388.87 L105,388.84 L104.5,388.82 L104,388.79 L103.5,388.76 L103,388.73 L102.5,388.71 L102,388.68 L101.5,388.65 L101,388.62 L100.5,388.59 L100,388.57 L99.5,388.54 L99,388.51 L98.5,388.48 L98,388.46 L97.5,388.43 L97,388.4 L96.5,388.37 L96,388.34 L95.5,388.32 L95,388.29 L94.5,388.26 L94,388.23 L93.5,388.21 L93,388.18 L92.5,388.15 L92,388.12 L91.5,388.09 L91,388.07 L90.5,388.04 L90,388.01 L89.5,387.98 L89,387.96 L88.5,387.93 L88,387.9 L87.5,387.87 L87,387.84 L86.5,387.82 L86,387.79 L85.5,387.76 L85,387.73 L84.5,387.71 L84,387.68 L83.5,387.65 L83,387.62 L82.5,387.59 L82,387.57 L81.5,387.54 L81,387.51 L80.5,387.48 L80,387.46 L79.5,387.43 L79,387.4 Z" fill="#ff4b48"/>
<path d="M79,387.3 L79.5,387.32 L80,387.34 L80.5,387.36 L81,387.38 L81.5,387.4 L82,387.42 L82.5,387.44 L83,387.46 L83.5,387.48 L84,387.5 L84.5,387.51 L85,387.53 L85.5,387.54 L86,387.56 L86.5,387.57 L87,387.59 L87.5,387.6 L88,387.61 L88.5,387.63 L89,387.64 L89.5,387.65 L90,387.65 L90.5,387.66 L91,387.67 L91.5,387.68 L92,387.68 L92.5,387.69 L93,387.69 L93.5,387.69 L94,387.69 L94.5,387.69 L95,387.69 L95.5,387.69 L96,387.68 L96.5,387.68 L97,387.67 L97.5,387.66 L98,387.65 L98.5,387.64 L99,387.63 L99.5,387.62 L100,387.6 L100.5,387.58 L101,387.57 L101.5,387.54 L102,387.52 L102.5,387.5 L103,387.47 L103.5,387.44 L104,387.41 L104.5,387.38 L105,387.35 L105.5,387.31 L106,387.27 L106.5,387.23 L107,387.19 L107.5,387.15 L108,387.11 L108.5,387.06 L109,387.01 L109.5,386.96 L110,386.9 L110.5,386.84 L111,386.79 L111.5,386.72 L112,386.66 L112.5,386.59 L113,386.52 L113.5,386.45 L114,386.38 L114.5,386.3 L115,386.22 L115.5,386.14 L116,386.06 L116.5,385.97 L117,385.88 L117.5,385.79 L118,385.7 L118.5,385.6 L119,385.5 L119.5,385.4 L120,385.29 L120.5,385.19 L121,385.08 L121.5,384.97 L122,384.85 L122.5,384.74 L123,384.62 L123.5,384.5 L124,384.37 L124.5,384.25 L125,384.12 L125.5,383.99 L126,383.86 L126.5,383.72 L127,383.59 L127.5,383.45 L128,383.31 L128.5,383.17 L129,383.02 L129.5,382.88 L130,382.73 L130.5,382.58 L131,382.43 L131.5,382.28 L132,382.13 L132.5,381.98 L133,381.82 L133.5,381.66 L134,381.51 L134.5,381.35 L135,381.19 L135.5,381.03 L136,380.87 L136.5,380.71 L137,380.54 L137.5,380.38 L138,380.22 L138.5,380.05 L139,379.89 L139.5,379.72 L140,379.56 L140.5,379.4 L141,379.23 L141.5,379.07 L142,378.9 L142.5,378.74 L143,378.57 L143.5,378.41 L144,378.25 L144.5,378.09 L145,377.92 L145.5,377.76 L146,377.6 L146.5,377.44 L147,377.28 L147.5,377.12 L148,376.97 L148.5,376.81 L149,376.65 L149.5,376.5 L150,376.34 L150.5,376.19 L151,376.04 L151.5,375.89 L152,375.74 L152.5,375.59 L153,375.44 L153.5,375.29 L154,375.15 L154.5,375 L155,374.86 L155.5,374.72 L156,374.58 L156.5,374.44 L157,374.3 L157.5,374.17 L158,374.03 L158.5,373.9 L159,373.77 L159.5,373.64 L160,373.51 L160.5,373.38 L161,373.26 L161.5,373.13 L162,373.01 L162.5,372.88 L163,372.76 L163.5,372.64 L164,372.53 L164.5,372.41 L165,372.29 L165.5,372.18 L166,372.07 L166.5,371.95 L167,371.84 L167.5,371.73 L168,371.62 L168.5,371.52 L169,371.41 L169.5,371.31 L170,371.2 L170.5,371.1 L171,371 L171.5,370.9 L172,370.8 L172.5,370.71 L173,370.61 L173.5,370.52 L174,370.42 L174.5,370.33 L175,370.24 L175.5,370.15 L176,370.06 L176.5,369.98 L177,369.89 L177.5,369.81 L178,369.73 L178.5,369.65 L179,369.57 L179.5,369.49 L180,369.42 L180.5,369.34 L181,369.27 L181.5,369.2 L182,369.13 L182.5,369.06 L183,369 L183.5,368.94 L184,368.88 L184.5,368.82 L185,368.76 L185.5,368.71 L186,368.66 L186.5,368.61 L187,368.56 L187.5,368.52 L188,368.48 L188.5,368.44 L189,368.4 L189.5,368.37 L190,368.34 L190.5,368.31 L191,368.29 L191.5,368.3 L192,368.31 L192.5,368.32 L193,368.34 L193.5,368.36 L194,368.39 L194.5,368.42 L195,368.45 L195.5,368.48 L196,368.52 L196.5,368.57 L197,368.61 L197.5,368.67 L198,368.72 L198.5,368.78 L199,368.84 L199.5,368.91 L200,368.98 L200.5,369.06 L201,369.14 L201.5,369.22 L202,369.31 L202.5,369.4 L203,369.5 L203.5,369.6 L204,369.71 L204.5,369.82 L205,369.93 L205.5,370.05 L206,370.17 L206.5,370.3 L207,370.43 L207.5,370.57 L208,370.71 L208.5,370.86 L209,371.01 L209.5,371.16 L210,371.32 L210.5,371.47 L211,371.62 L211.5,371.77 L212,371.93 L212.5,372.1 L213,372.27 L213.5,372.44 L214,372.61 L214.5,372.79 L215,372.98 L215.5,373.17 L216,373.36 L216.5,373.55 L217,373.75 L217.5,373.96 L218,374.16 L218.5,374.37 L219,374.58 L219.5,374.8 L220,375.02 L220.5,375.24 L221,375.47 L221.5,375.7 L222,375.93 L222.5,376.17 L223,376.4 L223.5,376.64 L224,376.88 L224.5,377.13 L225,377.38 L225.5,377.63 L226,377.88 L226.5,378.13 L227,378.38 L227.5,378.64 L228,378.9 L228.5,379.16 L229,379.42 L229.5,379.68 L230,379.95 L230.5,380.21 L231,380.48 L231.5,380.75 L232,381.01 L232.5,381.28 L233,381.55 L233.5,381.82 L234,382.09 L234.5,382.36 L235,382.63 L235.5,382.9 L236,383.17 L236.5,383.44 L237,383.71 L237.5,383.98 L238,384.25 L238.5,384.52 L239,384.78 L239.5,385.05 L240,385.32 L240.5,385.58 L241,385.85 L241.5,386.11 L242,386.37 L242.5,386.64 L243,386.9 L243.5,387.15 L244,387.41 L244.5,387.67 L245,387.92 L245.5,388.17 L246,388.42 L246.5,388.67 L247,388.92 L247.5,389.17 L248,389.41 L248.5,389.65 L249,389.89 L249.5,390.13 L250,390.36 L250.5,390.6 L251,390.83 L251.5,391.06 L252,391.28 L252.5,391.51 L253,391.73 L253.5,391.95 L254,392.17 L254.5,392.38 L255,392.6 L255.5,392.81 L256,393.01 L256.5,393.22 L257,393.42 L257.5,393.62 L258,393.82 L258.5,394.01 L259,394.21 L259.5,394.4 L260,394.59 L260.5,394.77 L261,394.95 L261.5,395.13 L262,395.31 L262.5,395.48 L263,395.65 L263.5,395.82 L264,395.98 L264.5,396.15 L265,396.31 L265.5,396.46 L266,396.62 L266.5,396.77 L267,396.92 L267.5,397.07 L268,397.21 L268.5,397.36 L269,397.5 L269.5,397.64 L270,397.77 L270.5,397.91 L271,398.04 L271.5,398.17 L272,398.3 L272.5,398.42 L273,398.54 L273.5,398.67 L274,398.78 L274.5,398.9 L275,399.02 L275.5,399.13 L276,399.24 L276.5,399.35 L277,399.46 L277.5,399.56 L278,399.67 L278.5,399.77 L279,399.87 L279.5,399.97 L280,400.06 L280.5,400.16 L281,400.25 L281.5,400.34 L282,400.43 L282.5,400.52 L283,400.61 L283.5,400.7 L284,400.78 L284.5,400.86 L285,400.95 L285.5,401.03 L286,401.11 L286.5,401.18 L287,401.26 L287.5,401.33 L288,401.41 L288.5,401.48 L289,401.55 L289.5,401.62 L290,401.69 L290.5,401.76 L291,401.83 L291.5,401.9 L292,401.96 L292.5,402.03 L293,402.09 L293.5,402.15 L294,402.22 L294.5,402.28 L295,402.34 L295.5,402.4 L296,402.46 L296.5,402.52 L297,402.57 L297.5,402.63 L298,402.69 L298.5,402.74 L299,402.8 L299.5,402.85 L300,402.9 L300.5,402.96 L301,403.01 L301.5,403.06 L302,403.11 L302.5,403.16 L303,403.21 L303.5,403.26 L304,403.31 L304.5,403.36 L305,403.41 L305.5,403.46 L306,403.51 L306.5,403.55 L307,403.6 L307.5,403.65 L308,403.7 L308.5,403.74 L309,403.78 L309.5,403.81 L310,403.85 L310.5,403.88 L311,403.92 L311.5,403.95 L312,403.98 L312.5,404.02 L313,404.05 L313.5,404.08 L314,404.11 L314.5,404.15 L315,404.18 L315.5,404.21 L316,404.24 L316.5,404.27 L317,404.31 L317.5,404.34 L318,404.37 L318.5,404.4 L319,404.43 L319.5,404.46 L320,404.49 L320.5,404.52 L321,404.55 L321.5,404.58 L322,404.61 L322.5,404.64 L323,404.67 L323.5,404.7 L324,404.73 L324.5,404.76 L325,404.79 L325.5,404.82 L326,404.85 L326.5,404.88 L327,404.91 L327.5,404.94 L328,404.97 L328.5,404.99 L329,405.02 L329.5,405.05 L330,405.08 L330.5,405.11 L331,405.14 L331.5,405.17 L332,405.2 L332.5,405.23 L333,405.25 L333.5,405.28 L334,405.31 L334.5,405.34 L335,405.37 L335.5,405.4 L336,405.42 L336.5,405.45 L337,405.48 L337.5,405.51 L338,405.54 L338.5,405.57" fill="none" stroke="#c81818" stroke-width="1.1"/>
<path d="M79,387.4 L79.5,387.43 L80,387.46 L80.5,387.48 L81,387.51 L81.5,387.54 L82,387.57 L82.5,387.59 L83,387.62 L83.5,387.65 L84,387.68 L84.5,387.71 L85,387.73 L85.5,387.76 L86,387.79 L86.5,387.82 L87,387.84 L87.5,387.87 L88,387.9 L88.5,387.93 L89,387.96 L89.5,387.98 L90,388.01 L90.5,388.04 L91,388.07 L91.5,388.09 L92,388.12 L92.5,388.15 L93,388.18 L93.5,388.21 L94,388.23 L94.5,388.26 L95,388.29 L95.5,388.32 L96,388.34 L96.5,388.37 L97,388.4 L97.5,388.43 L98,388.46 L98.5,388.48 L99,388.51 L99.5,388.54 L100,388.57 L100.5,388.59 L101,388.62 L101.5,388.65 L102,388.68 L102.5,388.71 L103,388.73 L103.5,388.76 L104,388.79 L104.5,388.82 L105,388.84 L105.5,388.87 L106,388.9 L106.5,388.93 L107,388.96 L107.5,388.99 L108,389.02 L108.5,389.05 L109,389.08 L109.5,389.11 L110,389.13 L110.5,389.16 L111,389.19 L111.5,389.22 L112,389.25 L112.5,389.28 L113,389.31 L113.5,389.34 L114,389.37 L114.5,389.4 L115,389.43 L115.5,389.46 L116,389.49 L116.5,389.52 L117,389.55 L117.5,389.57 L118,389.6 L118.5,389.63 L119,389.66 L119.5,389.69 L120,389.72 L120.5,389.75 L121,389.78 L121.5,389.81 L122,389.84 L122.5,389.87 L123,389.9 L123.5,389.93 L124,389.96 L124.5,389.99 L125,390.02 L125.5,390.04 L126,390.07 L126.5,390.1 L127,390.13 L127.5,390.16 L128,390.19 L128.5,390.22 L129,390.25 L129.5,390.28 L130,390.31 L130.5,390.34 L131,390.37 L131.5,390.4 L132,390.43 L132.5,390.46 L133,390.48 L133.5,390.51 L134,390.54 L134.5,390.57 L135,390.6 L135.5,390.63 L136,390.66 L136.5,390.69 L137,390.72 L137.5,390.75 L138,390.78 L138.5,390.81 L139,390.84 L139.5,390.87 L140,390.9 L140.5,390.92 L141,390.95 L141.5,390.98 L142,391.01 L142.5,391.04 L143,391.07 L143.5,391.1 L144,391.13 L144.5,391.16 L145,391.19 L145.5,391.22 L146,391.25 L146.5,391.28 L147,391.31 L147.5,391.34 L148,391.36 L148.5,391.39 L149,391.42 L149.5,391.45 L150,391.48 L150.5,391.51 L151,391.54 L151.5,391.56 L152,391.59 L152.5,391.62 L153,391.65 L153.5,391.68 L154,391.71 L154.5,391.73 L155,391.76 L155.5,391.79 L156,391.82 L156.5,391.85 L157,391.88 L157.5,391.9 L158,391.93 L158.5,391.96 L159,391.99 L159.5,392.02 L160,392.05 L160.5,392.07 L161,392.1 L161.5,392.13 L162,392.16 L162.5,392.19 L163,392.22 L163.5,392.24 L164,392.27 L164.5,392.3 L165,392.33 L165.5,392.36 L166,392.38 L166.5,392.41 L167,392.44 L167.5,392.47 L168,392.5 L168.5,392.53 L169,392.55 L169.5,392.58 L170,392.61 L170.5,392.64 L171,392.67 L171.5,392.7 L172,392.72 L172.5,392.75 L173,392.78 L173.5,392.81 L174,392.84 L174.5,392.87 L175,392.89 L175.5,392.92 L176,392.95 L176.5,392.98 L177,393.01 L177.5,393.04 L178,393.06 L178.5,393.09 L179,393.12 L179.5,393.15 L180,393.18 L180.5,393.21 L181,393.23 L181.5,393.26 L182,393.29 L182.5,393.32 L183,393.35 L183.5,393.38 L184,393.4 L184.5,393.43 L185,393.46 L185.5,393.49 L186,393.52 L186.5,393.55 L187,393.57 L187.5,393.6 L188,393.63 L188.5,393.66 L189,393.69 L189.5,393.72 L190,393.74 L190.5,393.77 L191,393.8 L191.5,393.86 L192,393.92 L192.5,393.97 L193,394.03 L193.5,394.09 L194,394.15 L194.5,394.21 L195,394.26 L195.5,394.32 L196,394.38 L196.5,394.44 L197,394.49 L197.5,394.55 L198,394.61 L198.5,394.67 L199,394.73 L199.5,394.78 L200,394.84 L200.5,394.9 L201,394.96 L201.5,395.02 L202,395.07 L202.5,395.13 L203,395.19 L203.5,395.25 L204,395.31 L204.5,395.36 L205,395.42 L205.5,395.48 L206,395.54 L206.5,395.59 L207,395.65 L207.5,395.71 L208,395.77 L208.5,395.83 L209,395.88 L209.5,395.94 L210,396 L210.5,396.04 L211,396.08 L211.5,396.12 L212,396.17 L212.5,396.21 L213,396.25 L213.5,396.29 L214,396.33 L214.5,396.37 L215,396.41 L215.5,396.45 L216,396.5 L216.5,396.54 L217,396.58 L217.5,396.62 L218,396.66 L218.5,396.7 L219,396.74 L219.5,396.79 L220,396.83 L220.5,396.87 L221,396.91 L221.5,396.95 L222,396.99 L222.5,397.03 L223,397.07 L223.5,397.12 L224,397.16 L224.5,397.2 L225,397.24 L225.5,397.28 L226,397.32 L226.5,397.36 L227,397.41 L227.5,397.45 L228,397.49 L228.5,397.53 L229,397.57 L229.5,397.61 L230,397.65 L230.5,397.7 L231,397.74 L231.5,397.78 L232,397.82 L232.5,397.86 L233,397.9 L233.5,397.94 L234,397.98 L234.5,398.03 L235,398.07 L235.5,398.11 L236,398.15 L236.5,398.19 L237,398.23 L237.5,398.27 L238,398.32 L238.5,398.36 L239,398.4 L239.5,398.44 L240,398.48 L240.5,398.52 L241,398.56 L241.5,398.6 L242,398.65 L242.5,398.69 L243,398.73 L243.5,398.77 L244,398.81 L244.5,398.85 L245,398.89 L245.5,398.94 L246,398.98 L246.5,399.02 L247,399.06 L247.5,399.1 L248,399.14 L248.5,399.18 L249,399.23 L249.5,399.27 L250,399.31 L250.5,399.35 L251,399.39 L251.5,399.43 L252,399.47 L252.5,399.51 L253,399.56 L253.5,399.6 L254,399.64 L254.5,399.68 L255,399.72 L255.5,399.76 L256,399.8 L256.5,399.85 L257,399.89 L257.5,399.93 L258,399.97 L258.5,400.01 L259,400.05 L259.5,400.09 L260,400.13 L260.5,400.18 L261,400.22 L261.5,400.26 L262,400.3 L262.5,400.34 L263,400.38 L263.5,400.42 L264,400.45 L264.5,400.49 L265,400.53 L265.5,400.57 L266,400.61 L266.5,400.65 L267,400.69 L267.5,400.72 L268,400.76 L268.5,400.8 L269,400.84 L269.5,400.88 L270,400.92 L270.5,400.96 L271,401 L271.5,401.03 L272,401.07 L272.5,401.11 L273,401.15 L273.5,401.19 L274,401.23 L274.5,401.27 L275,401.3 L275.5,401.34 L276,401.38 L276.5,401.42 L277,401.46 L277.5,401.5 L278,401.54 L278.5,401.57 L279,401.61 L279.5,401.65 L280,401.69 L280.5,401.73 L281,401.77 L281.5,401.81 L282,401.85 L282.5,401.88 L283,401.92 L283.5,401.96 L284,402 L284.5,402.04 L285,402.08 L285.5,402.12 L286,402.15 L286.5,402.19 L287,402.23 L287.5,402.27 L288,402.31 L288.5,402.35 L289,402.39 L289.5,402.42 L290,402.46 L290.5,402.5 L291,402.54 L291.5,402.58 L292,402.62 L292.5,402.66 L293,402.69 L293.5,402.73 L294,402.77 L294.5,402.81 L295,402.85 L295.5,402.89 L296,402.93 L296.5,402.97 L297,403 L297.5,403.04 L298,403.08 L298.5,403.12 L299,403.16 L299.5,403.2 L300,403.24 L300.5,403.27 L301,403.31 L301.5,403.35 L302,403.39 L302.5,403.43 L303,403.47 L303.5,403.51 L304,403.54 L304.5,403.58 L305,403.62 L305.5,403.66 L306,403.7 L306.5,403.74 L307,403.78 L307.5,403.82 L308,403.85 L308.5,403.89 L309,403.92 L309.5,403.95 L310,403.98 L310.5,404.01 L311,404.03 L311.5,404.06 L312,404.09 L312.5,404.12 L313,404.15 L313.5,404.17 L314,404.2 L314.5,404.23 L315,404.26 L315.5,404.29 L316,404.31 L316.5,404.34 L317,404.37 L317.5,404.4 L318,404.43 L318.5,404.45 L319,404.48 L319.5,404.51 L320,404.54 L320.5,404.57 L321,404.59 L321.5,404.62 L322,404.65 L322.5,404.68 L323,404.71 L323.5,404.73 L324,404.76 L324.5,404.79 L325,404.82 L325.5,404.85 L326,404.87 L326.5,404.9 L327,404.93 L327.5,404.96 L328,404.98 L328.5,405.01 L329,405.04 L329.5,405.07 L330,405.1 L330.5,405.12 L331,405.15 L331.5,405.18 L332,405.21 L332.5,405.24 L333,405.26 L333.5,405.29 L334,405.32 L334.5,405.35 L335,405.38 L335.5,405.4 L336,405.43 L336.5,405.46 L337,405.49 L337.5,405.52 L338,405.54 L338.5,405.57" fill="none" stroke="#22dd22" stroke-width="1.4"/>
<line x1="375" y1="254.5" x2="630.5" y2="254.5" stroke="#4a4a4a" stroke-width="1.0"/>
<line x1="375" y1="254" x2="375" y2="459.2" stroke="#8c8c8c" stroke-width="1.8"/>
<line x1="630.5" y1="254" x2="630.5" y2="459.2" stroke="#8c8c8c" stroke-width="1.8"/>
<line x1="374.1" y1="459.2" x2="631.4" y2="459.2" stroke="#555" stroke-width="1.8"/>
<line x1="607.27" y1="459.2" x2="607.27" y2="457.6" stroke="#555" stroke-width="1.1"/>
<line x1="584.05" y1="459.2" x2="584.05" y2="455.8" stroke="#555" stroke-width="1.1"/>
<line x1="560.82" y1="459.2" x2="560.82" y2="457.6" stroke="#555" stroke-width="1.1"/>
<line x1="537.59" y1="459.2" x2="537.59" y2="455.8" stroke="#555" stroke-width="1.1"/>
<line x1="514.36" y1="459.2" x2="514.36" y2="457.6" stroke="#555" stroke-width="1.1"/>
<line x1="491.14" y1="459.2" x2="491.14" y2="455.8" stroke="#555" stroke-width="1.1"/>
<line x1="467.91" y1="459.2" x2="467.91" y2="457.6" stroke="#555" stroke-width="1.1"/>
<line x1="444.68" y1="459.2" x2="444.68" y2="455.8" stroke="#555" stroke-width="1.1"/>
<line x1="421.45" y1="459.2" x2="421.45" y2="457.6" stroke="#555" stroke-width="1.1"/>
<line x1="398.23" y1="459.2" x2="398.23" y2="455.8" stroke="#555" stroke-width="1.1"/>
<text transform="translate(386.52,473.65) scale(1.0305,1)" font-size="15.12" font-weight="normal" fill="#000" stroke="#000" stroke-width="0.65">582</text>
<text transform="translate(432.99,473.65) scale(1.0179,1)" font-size="15.12" font-weight="normal" fill="#000" stroke="#000" stroke-width="0.65">580</text>
<text transform="translate(479.44,473.65) scale(1.0179,1)" font-size="15.12" font-weight="normal" fill="#000" stroke="#000" stroke-width="0.65">578</text>
<text transform="translate(525.9,473.65) scale(1.0076,1)" font-size="15.18" font-weight="normal" fill="#000" stroke="#000" stroke-width="0.65">576</text>
<text transform="translate(572.37,473.65) scale(0.9918,1)" font-size="15.27" font-weight="normal" fill="#000" stroke="#000" stroke-width="0.65">574</text>
<text transform="translate(618.79,473.65) scale(1.0260,1)" font-size="15.18" font-weight="normal" fill="#000" stroke="#000" stroke-width="0.65">572</text>
<path d="M375.6,371.2 L377.2,372.4 L380.3,359.3 L382,360 L384.4,346.2 L386.8,355.7 L391,386.7 L393.9,334.3 L396.3,333.1 L398.7,360.5 L401,317.6 L403,327 L405.3,373.6 L407.7,348.6 L410.1,367.6 L412.5,354.5 L414.9,306.9 L416.8,328.3 L419.6,298.6 L422,348.6 L424.4,323.6 L426.8,331.9 L428.7,334.3 L431,352.1 L435.1,314 L438.2,381.9 L442.7,340.2 L444.6,339 L447.7,323.6 L449.6,336.7 L452.5,334.3 L455,324.8 L458.6,296.2 L461,294.5 L463.3,293.8 L465.7,298.6 L468.1,278.3 L470.5,327.1 L472.9,310.5 L475.2,343.8 L477.6,314 L480,366.4 L484,316.4 L486.7,345 L489.5,359.3 L491.4,339 L493.8,385.5 L496.7,347.4 L500.2,349.8 L503.3,311.7 L507.4,364 L510.2,368.8 L512.1,324.8 L515.7,347.4 L517.4,349.8 L519.3,343.8 L522.1,312.4 L524,330.7 L526,336.7 L528.3,311 L531.2,345 L533.6,345.7 L536,311.7 L537.9,312.9 L540.2,366.4 L542.4,333.8 L544.8,366 L547.1,344.5 L549.5,352.4 L551.9,354 L554.3,355.2 L556.2,335 L558.6,392.1 L561,382.6 L563.8,341 L565.7,336.7 L568.1,343.3 L570.5,375.5 L572.9,385 L575.2,380.2 L577.4,341.4 L579.3,361.2 L581.9,383.8 L584.3,362.9 L586.4,371.9 L588.8,382.6 L591.2,358.8 L593.6,392.1 L596,387.4 L598.3,364.8 L600.7,381.4 L603.1,405.2 L605.5,356.4 L607.9,385 L610.2,379 L612.1,381.4 L614.5,352.9 L616.9,360 L619.3,398.1 L621.7,374.3 L624,367.1 L626.2,352.4 L628.6,358.8" fill="none" stroke="#ee22e6" stroke-width="1.3" stroke-linejoin="round"/>
<line x1="654" y1="254.6" x2="922.2" y2="254.6" stroke="#4a4a4a" stroke-width="1.0"/>
<line x1="654" y1="254.1" x2="654" y2="457.8" stroke="#8c8c8c" stroke-width="1.8"/>
<line x1="922.2" y1="254.1" x2="922.2" y2="457.8" stroke="#8c8c8c" stroke-width="1.8"/>
<line x1="653.1" y1="457.8" x2="923.1" y2="457.8" stroke="#555" stroke-width="1.8"/>
<line x1="908.79" y1="457.8" x2="908.79" y2="454.4" stroke="#555" stroke-width="1.1"/>
<line x1="895.38" y1="457.8" x2="895.38" y2="456.2" stroke="#555" stroke-width="1.1"/>
<line x1="881.97" y1="457.8" x2="881.97" y2="454.4" stroke="#555" stroke-width="1.1"/>
<line x1="868.56" y1="457.8" x2="868.56" y2="456.2" stroke="#555" stroke-width="1.1"/>
<line x1="855.15" y1="457.8" x2="855.15" y2="454.4" stroke="#555" stroke-width="1.1"/>
<line x1="841.74" y1="457.8" x2="841.74" y2="456.2" stroke="#555" stroke-width="1.1"/>
<line x1="828.33" y1="457.8" x2="828.33" y2="454.4" stroke="#555" stroke-width="1.1"/>
<line x1="814.92" y1="457.8" x2="814.92" y2="456.2" stroke="#555" stroke-width="1.1"/>
<line x1="801.51" y1="457.8" x2="801.51" y2="454.4" stroke="#555" stroke-width="1.1"/>
<line x1="788.1" y1="457.8" x2="788.1" y2="456.2" stroke="#555" stroke-width="1.1"/>
<line x1="774.69" y1="457.8" x2="774.69" y2="454.4" stroke="#555" stroke-width="1.1"/>
<line x1="761.28" y1="457.8" x2="761.28" y2="456.2" stroke="#555" stroke-width="1.1"/>
<line x1="747.87" y1="457.8" x2="747.87" y2="454.4" stroke="#555" stroke-width="1.1"/>
<line x1="734.46" y1="457.8" x2="734.46" y2="456.2" stroke="#555" stroke-width="1.1"/>
<line x1="721.05" y1="457.8" x2="721.05" y2="454.4" stroke="#555" stroke-width="1.1"/>
<line x1="707.64" y1="457.8" x2="707.64" y2="456.2" stroke="#555" stroke-width="1.1"/>
<line x1="694.23" y1="457.8" x2="694.23" y2="454.4" stroke="#555" stroke-width="1.1"/>
<line x1="680.82" y1="457.8" x2="680.82" y2="456.2" stroke="#555" stroke-width="1.1"/>
<line x1="667.41" y1="457.8" x2="667.41" y2="454.4" stroke="#555" stroke-width="1.1"/>
<text transform="translate(654.39,472.35) scale(1.0078,1)" font-size="15.42" font-weight="bold" fill="#000">544</text>
<text transform="translate(681.2,472.35) scale(1.0312,1)" font-size="15.33" font-weight="bold" fill="#000">542</text>
<text transform="translate(708.02,472.35) scale(1.0321,1)" font-size="15.26" font-weight="bold" fill="#000">540</text>
<text transform="translate(734.84,472.35) scale(1.0286,1)" font-size="15.26" font-weight="bold" fill="#000">538</text>
<text transform="translate(761.66,472.35) scale(1.0213,1)" font-size="15.33" font-weight="bold" fill="#000">536</text>
<text transform="translate(788.49,472.35) scale(1.0137,1)" font-size="15.33" font-weight="bold" fill="#000">534</text>
<text transform="translate(815.3,472.35) scale(1.0312,1)" font-size="15.33" font-weight="bold" fill="#000">532</text>
<text transform="translate(842.12,472.35) scale(1.0321,1)" font-size="15.26" font-weight="bold" fill="#000">530</text>
<text transform="translate(868.94,472.35) scale(1.0286,1)" font-size="15.26" font-weight="bold" fill="#000">528</text>
<text transform="translate(895.76,472.35) scale(1.0213,1)" font-size="15.33" font-weight="bold" fill="#000">526</text>
<rect x="774" y="277" width="45.5" height="47" fill="#ededf3"/>
<path d="M779,418.33 L779.5,418.34 L780,418.35 L780.5,418.37 L781,418.38 L781.5,418.4 L782,418.41 L782.5,418.42 L783,418.44 L783.5,418.45 L784,418.46 L784.5,418.48 L785,418.49 L785.5,418.5 L786,418.52 L786.5,418.53 L787,418.55 L787.5,418.56 L788,418.57 L788.5,418.59 L789,418.6 L789.5,418.61 L790,418.63 L790.5,418.64 L791,418.65 L791.5,418.67 L792,418.68 L792.5,418.69 L793,418.7 L793.5,418.71 L794,418.73 L794.5,418.74 L795,418.74 L795.5,418.75 L796,418.76 L796.5,418.76 L797,418.76 L797.5,418.76 L798,418.76 L798.5,418.74 L799,418.73 L799.5,418.7 L800,418.67 L800.5,418.62 L801,418.57 L801.5,418.49 L802,418.4 L802.5,418.28 L803,418.14 L803.5,417.97 L804,417.76 L804.5,417.51 L805,417.21 L805.5,416.85 L806,416.43 L806.5,415.93 L807,415.36 L807.5,414.69 L808,413.92 L808.5,413.03 L809,412.03 L809.5,410.88 L810,409.59 L810.5,408.14 L811,406.52 L811.5,404.71 L812,402.72 L812.5,400.53 L813,398.14 L813.5,395.54 L814,392.72 L814.5,389.69 L815,386.45 L815.5,383.01 L816,379.38 L816.5,375.56 L817,371.58 L817.5,367.45 L818,363.21 L818.5,358.87 L819,354.46 L819.5,350.03 L820,345.6 L820.5,341.23 L821,336.93 L821.5,332.77 L822,328.78 L822.5,325.01 L823,321.49 L823.5,318.27 L824,315.38 L824.5,312.86 L825,310.74 L825.5,309.04 L826,307.79 L826.5,307 L827,306.68 L827.5,306.84 L828,307.47 L828.5,308.57 L829,310.12 L829.5,312.1 L830,314.49 L830.5,317.27 L831,320.39 L831.5,323.82 L832,327.53 L832.5,331.46 L833,335.59 L833.5,339.86 L834,344.24 L834.5,348.68 L835,353.14 L835.5,357.59 L836,361.99 L836.5,366.31 L837,370.51 L837.5,374.58 L838,378.5 L838.5,382.23 L839,385.78 L839.5,389.13 L840,392.27 L840.5,395.2 L841,397.92 L841.5,400.42 L842,402.72 L842.5,404.82 L843,406.73 L843.5,408.45 L844,409.99 L844.5,411.38 L845,412.61 L845.5,413.7 L846,414.66 L846.5,415.5 L847,416.24 L847.5,416.88 L848,417.43 L848.5,417.91 L849,418.32 L849.5,418.67 L850,418.97 L850.5,419.23 L851,419.44 L851.5,419.63 L852,419.78 L852.5,419.91 L853,420.02 L853.5,420.11 L854,420.19 L854.5,420.26 L855,420.31 L855.5,420.36 L856,420.4 L856.5,420.44 L857,420.47 L857.5,420.5 L858,420.52 L858.5,420.54 L859,420.56 L859.5,420.58 L860,420.6 L860.5,420.62 L861,420.64 L861.5,420.65 L862,420.67 L862.5,420.68 L863,420.7 L863.5,420.71 L864,420.73 L864.5,420.74 L865,420.76 L865.5,420.77 L866,420.79 L866.5,420.8 L867,420.81 L867.5,420.83 L868,420.84 L868.5,420.86 L869,420.87 L869.5,420.89 L870,420.9 L870.5,420.89 L871,420.89 L871.5,420.88 L872,420.88 L872.5,420.87 L873,420.87 L873.5,420.86 L874,420.86 L874.5,420.85 L874.5,420.85 L874,420.86 L873.5,420.86 L873,420.87 L872.5,420.87 L872,420.88 L871.5,420.88 L871,420.89 L870.5,420.89 L870,420.9 L869.5,420.89 L869,420.87 L868.5,420.86 L868,420.84 L867.5,420.83 L867,420.81 L866.5,420.8 L866,420.79 L865.5,420.77 L865,420.76 L864.5,420.74 L864,420.73 L863.5,420.71 L863,420.7 L862.5,420.69 L862,420.67 L861.5,420.66 L861,420.64 L860.5,420.63 L860,420.61 L859.5,420.6 L859,420.59 L858.5,420.57 L858,420.56 L857.5,420.54 L857,420.53 L856.5,420.51 L856,420.5 L855.5,420.49 L855,420.47 L854.5,420.46 L854,420.44 L853.5,420.43 L853,420.41 L852.5,420.4 L852,420.39 L851.5,420.37 L851,420.36 L850.5,420.34 L850,420.33 L849.5,420.31 L849,420.3 L848.5,420.29 L848,420.27 L847.5,420.26 L847,420.24 L846.5,420.23 L846,420.21 L845.5,420.2 L845,420.19 L844.5,420.17 L844,420.16 L843.5,420.14 L843,420.13 L842.5,420.11 L842,420.1 L841.5,420.09 L841,420.07 L840.5,420.06 L840,420.04 L839.5,420.03 L839,420.01 L838.5,420 L838,419.99 L837.5,419.97 L837,419.96 L836.5,419.94 L836,419.93 L835.5,419.91 L835,419.9 L834.5,419.89 L834,419.87 L833.5,419.86 L833,419.84 L832.5,419.83 L832,419.81 L831.5,419.8 L831,419.79 L830.5,419.77 L830,419.76 L829.5,419.74 L829,419.73 L828.5,419.71 L828,419.7 L827.5,419.69 L827,419.67 L826.5,419.66 L826,419.64 L825.5,419.63 L825,419.61 L824.5,419.6 L824,419.59 L823.5,419.57 L823,419.56 L822.5,419.54 L822,419.53 L821.5,419.51 L821,419.5 L820.5,419.49 L820,419.47 L819.5,419.46 L819,419.44 L818.5,419.43 L818,419.41 L817.5,419.4 L817,419.39 L816.5,419.37 L816,419.36 L815.5,419.34 L815,419.33 L814.5,419.31 L814,419.3 L813.5,419.29 L813,419.27 L812.5,419.26 L812,419.24 L811.5,419.23 L811,419.21 L810.5,419.2 L810,419.19 L809.5,419.17 L809,419.16 L808.5,419.14 L808,419.13 L807.5,419.11 L807,419.1 L806.5,419.09 L806,419.07 L805.5,419.06 L805,419.04 L804.5,419.03 L804,419.01 L803.5,419 L803,418.99 L802.5,418.97 L802,418.96 L801.5,418.94 L801,418.93 L800.5,418.91 L800,418.9 L799.5,418.89 L799,418.87 L798.5,418.86 L798,418.85 L797.5,418.83 L797,418.82 L796.5,418.8 L796,418.79 L795.5,418.78 L795,418.76 L794.5,418.75 L794,418.74 L793.5,418.72 L793,418.71 L792.5,418.7 L792,418.68 L791.5,418.67 L791,418.65 L790.5,418.64 L790,418.63 L789.5,418.61 L789,418.6 L788.5,418.59 L788,418.57 L787.5,418.56 L787,418.55 L786.5,418.53 L786,418.52 L785.5,418.5 L785,418.49 L784.5,418.48 L784,418.46 L783.5,418.45 L783,418.44 L782.5,418.42 L782,418.41 L781.5,418.4 L781,418.38 L780.5,418.37 L780,418.35 L779.5,418.34 L779,418.33 Z" fill="#00ff30"/>
<path d="M779,417.86 L779.5,417.86 L780,417.87 L780.5,417.88 L781,417.88 L781.5,417.89 L782,417.89 L782.5,417.9 L783,417.9 L783.5,417.91 L784,417.91 L784.5,417.92 L785,417.92 L785.5,417.93 L786,417.93 L786.5,417.93 L787,417.94 L787.5,417.94 L788,417.94 L788.5,417.94 L789,417.95 L789.5,417.95 L790,417.95 L790.5,417.95 L791,417.95 L791.5,417.95 L792,417.95 L792.5,417.95 L793,417.95 L793.5,417.95 L794,417.95 L794.5,417.94 L795,417.94 L795.5,417.94 L796,417.93 L796.5,417.93 L797,417.92 L797.5,417.92 L798,417.91 L798.5,417.9 L799,417.9 L799.5,417.89 L800,417.88 L800.5,417.87 L801,417.85 L801.5,417.84 L802,417.83 L802.5,417.81 L803,417.8 L803.5,417.78 L804,417.76 L804.5,417.74 L805,417.71 L805.5,417.69 L806,417.66 L806.5,417.63 L807,417.59 L807.5,417.55 L808,417.51 L808.5,417.47 L809,417.42 L809.5,417.36 L810,417.3 L810.5,417.24 L811,417.16 L811.5,417.09 L812,417 L812.5,416.91 L813,416.8 L813.5,416.69 L814,416.57 L814.5,416.44 L815,416.3 L815.5,416.14 L816,415.97 L816.5,415.79 L817,415.59 L817.5,415.38 L818,415.14 L818.5,414.9 L819,414.63 L819.5,414.34 L820,414.03 L820.5,413.71 L821,413.36 L821.5,412.98 L822,412.59 L822.5,412.17 L823,411.72 L823.5,411.25 L824,410.76 L824.5,410.24 L825,409.7 L825.5,409.13 L826,408.53 L826.5,407.91 L827,407.27 L827.5,406.6 L828,405.92 L828.5,405.21 L829,404.48 L829.5,403.73 L830,402.97 L830.5,402.2 L831,401.41 L831.5,400.62 L832,399.82 L832.5,399.02 L833,398.22 L833.5,397.43 L834,396.64 L834.5,395.87 L835,395.12 L835.5,394.4 L836,393.71 L836.5,393.05 L837,392.43 L837.5,391.86 L838,391.34 L838.5,390.88 L839,390.48 L839.5,390.15 L840,389.9 L840.5,389.72 L841,389.61 L841.5,389.59 L842,389.63 L842.5,389.74 L843,389.91 L843.5,390.14 L844,390.43 L844.5,390.78 L845,391.18 L845.5,391.63 L846,392.12 L846.5,392.66 L847,393.23 L847.5,393.84 L848,394.47 L848.5,395.14 L849,395.82 L849.5,396.52 L850,397.24 L850.5,397.97 L851,398.7 L851.5,399.44 L852,400.19 L852.5,400.93 L853,401.67 L853.5,402.4 L854,403.12 L854.5,403.84 L855,404.54 L855.5,405.24 L856,405.91 L856.5,406.58 L857,407.22 L857.5,407.85 L858,408.46 L858.5,409.06 L859,409.63 L859.5,410.18 L860,410.72 L860.5,411.23 L861,411.72 L861.5,412.2 L862,412.65 L862.5,413.08 L863,413.5 L863.5,413.89 L864,414.27 L864.5,414.63 L865,414.97 L865.5,415.29 L866,415.59 L866.5,415.88 L867,416.15 L867.5,416.41 L868,416.65 L868.5,416.88 L869,417.1 L869.5,417.3 L870,417.49 L870.5,417.65 L871,417.8 L871.5,417.94 L872,418.07 L872.5,418.2 L873,418.31 L873.5,418.41 L874,418.51 L874.5,418.6 L874.5,420.85 L874,420.86 L873.5,420.86 L873,420.87 L872.5,420.87 L872,420.88 L871.5,420.88 L871,420.89 L870.5,420.89 L870,420.9 L869.5,420.89 L869,420.87 L868.5,420.86 L868,420.84 L867.5,420.83 L867,420.81 L866.5,420.8 L866,420.79 L865.5,420.77 L865,420.76 L864.5,420.74 L864,420.73 L863.5,420.71 L863,420.7 L862.5,420.69 L862,420.67 L861.5,420.66 L861,420.64 L860.5,420.63 L860,420.61 L859.5,420.6 L859,420.59 L858.5,420.57 L858,420.56 L857.5,420.54 L857,420.53 L856.5,420.51 L856,420.5 L855.5,420.49 L855,420.47 L854.5,420.46 L854,420.44 L853.5,420.43 L853,420.41 L852.5,420.4 L852,420.39 L851.5,420.37 L851,420.36 L850.5,420.34 L850,420.33 L849.5,420.31 L849,420.3 L848.5,420.29 L848,420.27 L847.5,420.26 L847,420.24 L846.5,420.23 L846,420.21 L845.5,420.2 L845,420.19 L844.5,420.17 L844,420.16 L843.5,420.14 L843,420.13 L842.5,420.11 L842,420.1 L841.5,420.09 L841,420.07 L840.5,420.06 L840,420.04 L839.5,420.03 L839,420.01 L838.5,420 L838,419.99 L837.5,419.97 L837,419.96 L836.5,419.94 L836,419.93 L835.5,419.91 L835,419.9 L834.5,419.89 L834,419.87 L833.5,419.86 L833,419.84 L832.5,419.83 L832,419.81 L831.5,419.8 L831,419.79 L830.5,419.77 L830,419.76 L829.5,419.74 L829,419.73 L828.5,419.71 L828,419.7 L827.5,419.69 L827,419.67 L826.5,419.66 L826,419.64 L825.5,419.63 L825,419.61 L824.5,419.6 L824,419.59 L823.5,419.57 L823,419.56 L822.5,419.54 L822,419.53 L821.5,419.51 L821,419.5 L820.5,419.49 L820,419.47 L819.5,419.46 L819,419.44 L818.5,419.43 L818,419.41 L817.5,419.4 L817,419.39 L816.5,419.37 L816,419.36 L815.5,419.34 L815,419.33 L814.5,419.31 L814,419.3 L813.5,419.29 L813,419.27 L812.5,419.26 L812,419.24 L811.5,419.23 L811,419.21 L810.5,419.2 L810,419.19 L809.5,419.17 L809,419.16 L808.5,419.14 L808,419.13 L807.5,419.11 L807,419.1 L806.5,419.09 L806,419.07 L805.5,419.06 L805,419.04 L804.5,419.03 L804,419.01 L803.5,419 L803,418.99 L802.5,418.97 L802,418.96 L801.5,418.94 L801,418.93 L800.5,418.91 L800,418.9 L799.5,418.89 L799,418.87 L798.5,418.86 L798,418.85 L797.5,418.83 L797,418.82 L796.5,418.8 L796,418.79 L795.5,418.78 L795,418.76 L794.5,418.75 L794,418.74 L793.5,418.72 L793,418.71 L792.5,418.7 L792,418.68 L791.5,418.67 L791,418.65 L790.5,418.64 L790,418.63 L789.5,418.61 L789,418.6 L788.5,418.59 L788,418.57 L787.5,418.56 L787,418.55 L786.5,418.53 L786,418.52 L785.5,418.5 L785,418.49 L784.5,418.48 L784,418.46 L783.5,418.45 L783,418.44 L782.5,418.42 L782,418.41 L781.5,418.4 L781,418.38 L780.5,418.37 L780,418.35 L779.5,418.34 L779,418.33 Z" fill="#ff4b48"/>
<path d="M779,418.33 L779.5,418.34 L780,418.35 L780.5,418.37 L781,418.38 L781.5,418.4 L782,418.41 L782.5,418.42 L783,418.44 L783.5,418.45 L784,418.46 L784.5,418.48 L785,418.49 L785.5,418.5 L786,418.52 L786.5,418.53 L787,418.55 L787.5,418.56 L788,418.57 L788.5,418.59 L789,418.6 L789.5,418.61 L790,418.63 L790.5,418.64 L791,418.65 L791.5,418.67 L792,418.68 L792.5,418.69 L793,418.7 L793.5,418.71 L794,418.73 L794.5,418.74 L795,418.74 L795.5,418.75 L796,418.76 L796.5,418.76 L797,418.76 L797.5,418.76 L798,418.76 L798.5,418.74 L799,418.73 L799.5,418.7 L800,418.67 L800.5,418.62 L801,418.57 L801.5,418.49 L802,418.4 L802.5,418.28 L803,418.14 L803.5,417.97 L804,417.76 L804.5,417.74 L805,417.71 L805.5,417.69 L806,417.66 L806.5,417.63 L807,417.59 L807.5,417.55 L808,417.51 L808.5,417.47 L809,417.42 L809.5,417.36 L810,417.3 L810.5,417.24 L811,417.16 L811.5,417.09 L812,417 L812.5,416.91 L813,416.8 L813.5,416.69 L814,416.57 L814.5,416.44 L815,416.3 L815.5,416.14 L816,415.97 L816.5,415.79 L817,415.59 L817.5,415.38 L818,415.14 L818.5,414.9 L819,414.63 L819.5,414.34 L820,414.03 L820.5,413.71 L821,413.36 L821.5,412.98 L822,412.59 L822.5,412.17 L823,411.72 L823.5,411.25 L824,410.76 L824.5,410.24 L825,409.7 L825.5,409.13 L826,408.53 L826.5,407.91 L827,407.27 L827.5,406.6 L828,405.92 L828.5,405.21 L829,404.48 L829.5,403.73 L830,402.97 L830.5,402.2 L831,401.41 L831.5,400.62 L832,399.82 L832.5,399.02 L833,398.22 L833.5,397.43 L834,396.64 L834.5,395.87 L835,395.12 L835.5,394.4 L836,393.71 L836.5,393.05 L837,392.43 L837.5,391.86 L838,391.34 L838.5,390.88 L839,390.48 L839.5,390.15 L840,392.27 L840.5,395.2 L841,397.92 L841.5,400.42 L842,402.72 L842.5,404.82 L843,406.73 L843.5,408.45 L844,409.99 L844.5,411.38 L845,412.61 L845.5,413.7 L846,414.66 L846.5,415.5 L847,416.24 L847.5,416.88 L848,417.43 L848.5,417.91 L849,418.32 L849.5,418.67 L850,418.97 L850.5,419.23 L851,419.44 L851.5,419.63 L852,419.78 L852.5,419.91 L853,420.02 L853.5,420.11 L854,420.19 L854.5,420.26 L855,420.31 L855.5,420.36 L856,420.4 L856.5,420.44 L857,420.47 L857.5,420.5 L858,420.52 L858.5,420.54 L859,420.56 L859.5,420.58 L860,420.6 L860.5,420.62 L861,420.64 L861.5,420.65 L862,420.67 L862.5,420.68 L863,420.7 L863.5,420.71 L864,420.73 L864.5,420.74 L865,420.76 L865.5,420.77 L866,420.79 L866.5,420.8 L867,420.81 L867.5,420.83 L868,420.84 L868.5,420.86 L869,420.87 L869.5,420.89 L870,420.9 L870.5,420.89 L871,420.89 L871.5,420.88 L872,420.88 L872.5,420.87 L873,420.87 L873.5,420.86 L874,420.86 L874.5,420.85 L874.5,420.85 L874,420.86 L873.5,420.86 L873,420.87 L872.5,420.87 L872,420.88 L871.5,420.88 L871,420.89 L870.5,420.89 L870,420.9 L869.5,420.89 L869,420.87 L868.5,420.86 L868,420.84 L867.5,420.83 L867,420.81 L866.5,420.8 L866,420.79 L865.5,420.77 L865,420.76 L864.5,420.74 L864,420.73 L863.5,420.71 L863,420.7 L862.5,420.69 L862,420.67 L861.5,420.66 L861,420.64 L860.5,420.63 L860,420.61 L859.5,420.6 L859,420.59 L858.5,420.57 L858,420.56 L857.5,420.54 L857,420.53 L856.5,420.51 L856,420.5 L855.5,420.49 L855,420.47 L854.5,420.46 L854,420.44 L853.5,420.43 L853,420.41 L852.5,420.4 L852,420.39 L851.5,420.37 L851,420.36 L850.5,420.34 L850,420.33 L849.5,420.31 L849,420.3 L848.5,420.29 L848,420.27 L847.5,420.26 L847,420.24 L846.5,420.23 L846,420.21 L845.5,420.2 L845,420.19 L844.5,420.17 L844,420.16 L843.5,420.14 L843,420.13 L842.5,420.11 L842,420.1 L841.5,420.09 L841,420.07 L840.5,420.06 L840,420.04 L839.5,420.03 L839,420.01 L838.5,420 L838,419.99 L837.5,419.97 L837,419.96 L836.5,419.94 L836,419.93 L835.5,419.91 L835,419.9 L834.5,419.89 L834,419.87 L833.5,419.86 L833,419.84 L832.5,419.83 L832,419.81 L831.5,419.8 L831,419.79 L830.5,419.77 L830,419.76 L829.5,419.74 L829,419.73 L828.5,419.71 L828,419.7 L827.5,419.69 L827,419.67 L826.5,419.66 L826,419.64 L825.5,419.63 L825,419.61 L824.5,419.6 L824,419.59 L823.5,419.57 L823,419.56 L822.5,419.54 L822,419.53 L821.5,419.51 L821,419.5 L820.5,419.49 L820,419.47 L819.5,419.46 L819,419.44 L818.5,419.43 L818,419.41 L817.5,419.4 L817,419.39 L816.5,419.37 L816,419.36 L815.5,419.34 L815,419.33 L814.5,419.31 L814,419.3 L813.5,419.29 L813,419.27 L812.5,419.26 L812,419.24 L811.5,419.23 L811,419.21 L810.5,419.2 L810,419.19 L809.5,419.17 L809,419.16 L808.5,419.14 L808,419.13 L807.5,419.11 L807,419.1 L806.5,419.09 L806,419.07 L805.5,419.06 L805,419.04 L804.5,419.03 L804,419.01 L803.5,419 L803,418.99 L802.5,418.97 L802,418.96 L801.5,418.94 L801,418.93 L800.5,418.91 L800,418.9 L799.5,418.89 L799,418.87 L798.5,418.86 L798,418.85 L797.5,418.83 L797,418.82 L796.5,418.8 L796,418.79 L795.5,418.78 L795,418.76 L794.5,418.75 L794,418.74 L793.5,418.72 L793,418.71 L792.5,418.7 L792,418.68 L791.5,418.67 L791,418.65 L790.5,418.64 L790,418.63 L789.5,418.61 L789,418.6 L788.5,418.59 L788,418.57 L787.5,418.56 L787,418.55 L786.5,418.53 L786,418.52 L785.5,418.5 L785,418.49 L784.5,418.48 L784,418.46 L783.5,418.45 L783,418.44 L782.5,418.42 L782,418.41 L781.5,418.4 L781,418.38 L780.5,418.37 L780,418.35 L779.5,418.34 L779,418.33 Z" fill="#ec4a08"/>
<path d="M779,418.33 L779.5,418.34 L780,418.35 L780.5,418.37 L781,418.38 L781.5,418.4 L782,418.41 L782.5,418.42 L783,418.44 L783.5,418.45 L784,418.46 L784.5,418.48 L785,418.49 L785.5,418.5 L786,418.52 L786.5,418.53 L787,418.55 L787.5,418.56 L788,418.57 L788.5,418.59 L789,418.6 L789.5,418.61 L790,418.63 L790.5,418.64 L791,418.65 L791.5,418.67 L792,418.68 L792.5,418.69 L793,418.7 L793.5,418.71 L794,418.73 L794.5,418.74 L795,418.74 L795.5,418.75 L796,418.76 L796.5,418.76 L797,418.76 L797.5,418.76 L798,418.76 L798.5,418.74 L799,418.73 L799.5,418.7 L800,418.67 L800.5,418.62 L801,418.57 L801.5,418.49 L802,418.4 L802.5,418.28 L803,418.14 L803.5,417.97 L804,417.76 L804.5,417.51 L805,417.21 L805.5,416.85 L806,416.43 L806.5,415.93 L807,415.36 L807.5,414.69 L808,413.92 L808.5,413.03 L809,412.03 L809.5,410.88 L810,409.59 L810.5,408.14 L811,406.52 L811.5,404.71 L812,402.72 L812.5,400.53 L813,398.14 L813.5,395.54 L814,392.72 L814.5,389.69 L815,386.45 L815.5,383.01 L816,379.38 L816.5,375.56 L817,371.58 L817.5,367.45 L818,363.21 L818.5,358.87 L819,354.46 L819.5,350.03 L820,345.6 L820.5,341.23 L821,336.93 L821.5,332.77 L822,328.78 L822.5,325.01 L823,321.49 L823.5,318.27 L824,315.38 L824.5,312.86 L825,310.74 L825.5,309.04 L826,307.79 L826.5,307 L827,306.68 L827.5,306.84 L828,307.47 L828.5,308.57 L829,310.12 L829.5,312.1 L830,314.49 L830.5,317.27 L831,320.39 L831.5,323.82 L832,327.53 L832.5,331.46 L833,335.59 L833.5,339.86 L834,344.24 L834.5,348.68 L835,353.14 L835.5,357.59 L836,361.99 L836.5,366.31 L837,370.51 L837.5,374.58 L838,378.5 L838.5,382.23 L839,385.78 L839.5,389.13 L840,392.27 L840.5,395.2 L841,397.92 L841.5,400.42 L842,402.72 L842.5,404.82 L843,406.73 L843.5,408.45 L844,409.99 L844.5,411.38 L845,412.61 L845.5,413.7 L846,414.66 L846.5,415.5 L847,416.24 L847.5,416.88 L848,417.43 L848.5,417.91 L849,418.32 L849.5,418.67 L850,418.97 L850.5,419.23 L851,419.44 L851.5,419.63 L852,419.78 L852.5,419.91 L853,420.02 L853.5,420.11 L854,420.19 L854.5,420.26 L855,420.31 L855.5,420.36 L856,420.4 L856.5,420.44 L857,420.47 L857.5,420.5 L858,420.52 L858.5,420.54 L859,420.56 L859.5,420.58 L860,420.6 L860.5,420.62 L861,420.64 L861.5,420.65 L862,420.67 L862.5,420.68 L863,420.7 L863.5,420.71 L864,420.73 L864.5,420.74 L865,420.76 L865.5,420.77 L866,420.79 L866.5,420.8 L867,420.81 L867.5,420.83 L868,420.84 L868.5,420.86 L869,420.87 L869.5,420.89 L870,420.9 L870.5,420.89 L871,420.89 L871.5,420.88 L872,420.88 L872.5,420.87 L873,420.87 L873.5,420.86 L874,420.86 L874.5,420.85" fill="none" stroke="#22cc22" stroke-width="1.0"/>
<path d="M779,417.86 L779.5,417.86 L780,417.87 L780.5,417.88 L781,417.88 L781.5,417.89 L782,417.89 L782.5,417.9 L783,417.9 L783.5,417.91 L784,417.91 L784.5,417.92 L785,417.92 L785.5,417.93 L786,417.93 L786.5,417.93 L787,417.94 L787.5,417.94 L788,417.94 L788.5,417.94 L789,417.95 L789.5,417.95 L790,417.95 L790.5,417.95 L791,417.95 L791.5,417.95 L792,417.95 L792.5,417.95 L793,417.95 L793.5,417.95 L794,417.95 L794.5,417.94 L795,417.94 L795.5,417.94 L796,417.93 L796.5,417.93 L797,417.92 L797.5,417.92 L798,417.91 L798.5,417.9 L799,417.9 L799.5,417.89 L800,417.88 L800.5,417.87 L801,417.85 L801.5,417.84 L802,417.83 L802.5,417.81 L803,417.8 L803.5,417.78 L804,417.76 L804.5,417.74 L805,417.71 L805.5,417.69 L806,417.66 L806.5,417.63 L807,417.59 L807.5,417.55 L808,417.51 L808.5,417.47 L809,417.42 L809.5,417.36 L810,417.3 L810.5,417.24 L811,417.16 L811.5,417.09 L812,417 L812.5,416.91 L813,416.8 L813.5,416.69 L814,416.57 L814.5,416.44 L815,416.3 L815.5,416.14 L816,415.97 L816.5,415.79 L817,415.59 L817.5,415.38 L818,415.14 L818.5,414.9 L819,414.63 L819.5,414.34 L820,414.03 L820.5,413.71 L821,413.36 L821.5,412.98 L822,412.59 L822.5,412.17 L823,411.72 L823.5,411.25 L824,410.76 L824.5,410.24 L825,409.7 L825.5,409.13 L826,408.53 L826.5,407.91 L827,407.27 L827.5,406.6 L828,405.92 L828.5,405.21 L829,404.48 L829.5,403.73 L830,402.97 L830.5,402.2 L831,401.41 L831.5,400.62 L832,399.82 L832.5,399.02 L833,398.22 L833.5,397.43 L834,396.64 L834.5,395.87 L835,395.12 L835.5,394.4 L836,393.71 L836.5,393.05 L837,392.43 L837.5,391.86 L838,391.34 L838.5,390.88 L839,390.48 L839.5,390.15 L840,389.9 L840.5,389.72 L841,389.61 L841.5,389.59 L842,389.63 L842.5,389.74 L843,389.91 L843.5,390.14 L844,390.43 L844.5,390.78 L845,391.18 L845.5,391.63 L846,392.12 L846.5,392.66 L847,393.23 L847.5,393.84 L848,394.47 L848.5,395.14 L849,395.82 L849.5,396.52 L850,397.24 L850.5,397.97 L851,398.7 L851.5,399.44 L852,400.19 L852.5,400.93 L853,401.67 L853.5,402.4 L854,403.12 L854.5,403.84 L855,404.54 L855.5,405.24 L856,405.91 L856.5,406.58 L857,407.22 L857.5,407.85 L858,408.46 L858.5,409.06 L859,409.63 L859.5,410.18 L860,410.72 L860.5,411.23 L861,411.72 L861.5,412.2 L862,412.65 L862.5,413.08 L863,413.5 L863.5,413.89 L864,414.27 L864.5,414.63 L865,414.97 L865.5,415.29 L866,415.59 L866.5,415.88 L867,416.15 L867.5,416.41 L868,416.65 L868.5,416.88 L869,417.1 L869.5,417.3 L870,417.49 L870.5,417.65 L871,417.8 L871.5,417.94 L872,418.07 L872.5,418.2 L873,418.31 L873.5,418.41 L874,418.51 L874.5,418.6" fill="none" stroke="#ff2020" stroke-width="1.0"/>
<path d="M779,418.33 L779.5,418.34 L780,418.35 L780.5,418.37 L781,418.38 L781.5,418.4 L782,418.41 L782.5,418.42 L783,418.44 L783.5,418.45 L784,418.46 L784.5,418.48 L785,418.49 L785.5,418.5 L786,418.52 L786.5,418.53 L787,418.55 L787.5,418.56 L788,418.57 L788.5,418.59 L789,418.6 L789.5,418.61 L790,418.63 L790.5,418.64 L791,418.65 L791.5,418.67 L792,418.68 L792.5,418.7 L793,418.71 L793.5,418.72 L794,418.74 L794.5,418.75 L795,418.76 L795.5,418.78 L796,418.79 L796.5,418.8 L797,418.82 L797.5,418.83 L798,418.85 L798.5,418.86 L799,418.87 L799.5,418.89 L800,418.9 L800.5,418.91 L801,418.93 L801.5,418.94 L802,418.96 L802.5,418.97 L803,418.99 L803.5,419 L804,419.01 L804.5,419.03 L805,419.04 L805.5,419.06 L806,419.07 L806.5,419.09 L807,419.1 L807.5,419.11 L808,419.13 L808.5,419.14 L809,419.16 L809.5,419.17 L810,419.19 L810.5,419.2 L811,419.21 L811.5,419.23 L812,419.24 L812.5,419.26 L813,419.27 L813.5,419.29 L814,419.3 L814.5,419.31 L815,419.33 L815.5,419.34 L816,419.36 L816.5,419.37 L817,419.39 L817.5,419.4 L818,419.41 L818.5,419.43 L819,419.44 L819.5,419.46 L820,419.47 L820.5,419.49 L821,419.5 L821.5,419.51 L822,419.53 L822.5,419.54 L823,419.56 L823.5,419.57 L824,419.59 L824.5,419.6 L825,419.61 L825.5,419.63 L826,419.64 L826.5,419.66 L827,419.67 L827.5,419.69 L828,419.7 L828.5,419.71 L829,419.73 L829.5,419.74 L830,419.76 L830.5,419.77 L831,419.79 L831.5,419.8 L832,419.81 L832.5,419.83 L833,419.84 L833.5,419.86 L834,419.87 L834.5,419.89 L835,419.9 L835.5,419.91 L836,419.93 L836.5,419.94 L837,419.96 L837.5,419.97 L838,419.99 L838.5,420 L839,420.01 L839.5,420.03 L840,420.04 L840.5,420.06 L841,420.07 L841.5,420.09 L842,420.1 L842.5,420.11 L843,420.13 L843.5,420.14 L844,420.16 L844.5,420.17 L845,420.19 L845.5,420.2 L846,420.21 L846.5,420.23 L847,420.24 L847.5,420.26 L848,420.27 L848.5,420.29 L849,420.3 L849.5,420.31 L850,420.33 L850.5,420.34 L851,420.36 L851.5,420.37 L852,420.39 L852.5,420.4 L853,420.41 L853.5,420.43 L854,420.44 L854.5,420.46 L855,420.47 L855.5,420.49 L856,420.5 L856.5,420.51 L857,420.53 L857.5,420.54 L858,420.56 L858.5,420.57 L859,420.59 L859.5,420.6 L860,420.61 L860.5,420.63 L861,420.64 L861.5,420.66 L862,420.67 L862.5,420.69 L863,420.7 L863.5,420.71 L864,420.73 L864.5,420.74 L865,420.76 L865.5,420.77 L866,420.79 L866.5,420.8 L867,420.81 L867.5,420.83 L868,420.84 L868.5,420.86 L869,420.87 L869.5,420.89 L870,420.9 L870.5,420.89 L871,420.89 L871.5,420.88 L872,420.88 L872.5,420.87 L873,420.87 L873.5,420.86 L874,420.86 L874.5,420.85" fill="none" stroke="#22e8f0" stroke-width="1.2"/>
<path d="M655,407.86 L656,408.9 L657,407.59 L658,407.19 L659,408.29 L660,409.07 L661,409.81 L662,409.51 L663,407.06 L664,409.33 L665,410.54 L666,409.27 L667,408.82 L668,409.77 L669,409.09 L670,410.36 L671,409.84 L672,411.37 L673,410.6 L674,409.51 L675,410.96 L676,411.42 L677,410.05 L678,410.32 L679,408.57 L680,411.9 L681,410.52 L682,409.1 L683,409.57 L684,411.22 L685,412.32 L686,411.58 L687,412.25 L688,410.79 L689,410.66 L690,413 L691,412.72 L692,412.31 L693,413.73 L694,411.61 L695,412.25 L696,413.81 L697,414.73 L698,413.01 L699,414.8 L700,412.63 L701,413.67 L702,413.28 L703,411.97 L704,413.93 L705,414.72 L706,413.75 L707,413.94 L708,415.51 L709,412.98 L710,412.85 L711,413.8 L712,413.37 L713,416.02 L714,415.1 L715,414.04 L716,414.36 L717,417.91 L718,414.51 L719,414.43 L720,415.57 L721,415.98 L722,415.63 L723,414.58 L724,414.4 L725,416.23 L726,415.65 L727,414.14 L728,417.02 L729,416.7 L730,415.76 L731,415.81 L732,416.38 L733,415.53 L734,414.94 L735,416.69 L736,415 L737,416.9 L738,415.14 L739,416.56 L740,416.59 L741,418.58 L742,415.81 L743,415.53 L744,416.37 L745,415.97 L746,416.57 L747,417.65 L748,418.08 L749,419.03 L750,416.71 L751,420.15 L752,419.56 L753,417.45 L754,415.42 L755,417.7 L756,417.91 L757,415.53 L758,417.88 L759,417.58 L760,416.97 L761,418.36 L762,418.7 L763,417.17 L764,417.84 L765,416.9 L766,416.71 L767,417.51 L768,417.87 L769,416.7 L770,414.94 L771,417.62 L772,415.31 L773,416.87 L774,418.35 L775,416.36 L776,414.97 L777,414.44 L778,416.79 L779,415.33 L780,415.56 L781,415.59 L782,414.22 L783,413.51 L784,412.37 L785,409.68 L786,410.63 L787,411.39 L788,410.51 L789,410.23 L790,408.74 L791,407.94 L792,407.34 L793,404.27 L794,403.28 L795,400.15 L796,400.7 L797,397.48 L798,395.39 L799,393.66 L800,390.19 L801,385.87 L802,383.41 L803,377.84 L804,376.39 L805,372.88 L806,368.09 L807,368.22 L808,363.6 L809,362.63 L810,359.33 L811,358.61 L812,356.73 L813,352.18 L814,348.71 L815,346.82 L816,343.89 L817,338.07 L818,332.51 L819,327.66 L820,317.95 L821,313.28 L822,305.76 L823,300.93 L824,294.01 L825,288.69 L826,285.76 L827,282.44 L828,283.35 L829,283.85 L830,287.02 L831,291.09 L832,298.49 L833,304.32 L834,312.58 L835,320.61 L836,327.56 L837,337.06 L838,344.62 L839,351.86 L840,357.82 L841,363.8 L842,370.36 L843,376.46 L844,377.56 L845,382.53 L846,384.79 L847,388.73 L848,390.88 L849,393.74 L850,391.94 L851,396.02 L852,397.39 L853,399.92 L854,400.86 L855,402.41 L856,405.12 L857,407.65 L858,404.16 L859,407.84 L860,409.56 L861,410.28 L862,410.89 L863,410.78 L864,412.02 L865,414.46 L866,415.52 L867,415.19 L868,414.86 L869,416.34 L870,416.5 L871,417.71 L872,417.65 L873,417.25 L874,418.36 L875,417.26 L876,419.49 L877,420.06 L878,417.89 L879,419.64 L880,418.37 L881,420.56 L882,420.49 L883,419.45 L884,420.75 L885,419.39 L886,419.23 L887,419.35 L888,419.81 L889,419.66 L890,420.16 L891,419.41 L892,420.81 L893,421.07 L894,419.56 L895,418.64 L896,420.79 L897,421.2 L898,419.9 L899,418.77 L900,420.32 L901,421.57 L902,418.17 L903,420.51 L904,419.71 L905,419.16 L906,420.51 L907,418.7 L908,420.29 L909,421.29 L910,420.15 L911,419.09 L912,418.17 L913,418.66 L914,418.09 L915,421.52 L916,419.66" fill="none" stroke="#222" stroke-width="0.65"/>
<path d="M655,408.3 L655.5,408.36 L656,408.43 L656.5,408.49 L657,408.56 L657.5,408.62 L658,408.68 L658.5,408.75 L659,408.81 L659.5,408.88 L660,408.94 L660.5,409 L661,409.07 L661.5,409.13 L662,409.2 L662.5,409.26 L663,409.32 L663.5,409.39 L664,409.45 L664.5,409.52 L665,409.58 L665.5,409.64 L666,409.71 L666.5,409.77 L667,409.84 L667.5,409.9 L668,409.96 L668.5,410.03 L669,410.09 L669.5,410.16 L670,410.22 L670.5,410.28 L671,410.35 L671.5,410.41 L672,410.48 L672.5,410.54 L673,410.6 L673.5,410.67 L674,410.73 L674.5,410.8 L675,410.86 L675.5,410.92 L676,410.99 L676.5,411.05 L677,411.12 L677.5,411.18 L678,411.24 L678.5,411.31 L679,411.37 L679.5,411.44 L680,411.5 L680.5,411.56 L681,411.61 L681.5,411.67 L682,411.72 L682.5,411.78 L683,411.83 L683.5,411.89 L684,411.95 L684.5,412 L685,412.06 L685.5,412.11 L686,412.17 L686.5,412.22 L687,412.28 L687.5,412.34 L688,412.39 L688.5,412.45 L689,412.5 L689.5,412.56 L690,412.61 L690.5,412.67 L691,412.73 L691.5,412.78 L692,412.84 L692.5,412.89 L693,412.95 L693.5,413 L694,413.06 L694.5,413.12 L695,413.17 L695.5,413.23 L696,413.28 L696.5,413.34 L697,413.39 L697.5,413.45 L698,413.51 L698.5,413.56 L699,413.62 L699.5,413.67 L700,413.73 L700.5,413.78 L701,413.84 L701.5,413.9 L702,413.95 L702.5,414.01 L703,414.06 L703.5,414.12 L704,414.17 L704.5,414.23 L705,414.29 L705.5,414.34 L706,414.4 L706.5,414.45 L707,414.51 L707.5,414.56 L708,414.62 L708.5,414.68 L709,414.73 L709.5,414.79 L710,414.84 L710.5,414.9 L711,414.95 L711.5,415.01 L712,415.07 L712.5,415.12 L713,415.18 L713.5,415.23 L714,415.29 L714.5,415.34 L715,415.4 L715.5,415.44 L716,415.47 L716.5,415.51 L717,415.55 L717.5,415.58 L718,415.62 L718.5,415.66 L719,415.69 L719.5,415.73 L720,415.77 L720.5,415.8 L721,415.84 L721.5,415.88 L722,415.91 L722.5,415.95 L723,415.99 L723.5,416.02 L724,416.06 L724.5,416.1 L725,416.13 L725.5,416.17 L726,416.2 L726.5,416.24 L727,416.28 L727.5,416.31 L728,416.35 L728.5,416.39 L729,416.42 L729.5,416.46 L730,416.5 L730.5,416.53 L731,416.57 L731.5,416.61 L732,416.64 L732.5,416.68 L733,416.72 L733.5,416.75 L734,416.79 L734.5,416.83 L735,416.86 L735.5,416.9 L736,416.94 L736.5,416.97 L737,417.01 L737.5,417.05 L738,417.08 L738.5,417.12 L739,417.15 L739.5,417.19 L740,417.23 L740.5,417.26 L741,417.3 L741.5,417.34 L742,417.37 L742.5,417.41 L743,417.45 L743.5,417.48 L744,417.52 L744.5,417.55 L745,417.59 L745.5,417.63 L746,417.66 L746.5,417.7 L747,417.73 L747.5,417.77 L748,417.8 L748.5,417.84 L749,417.87 L749.5,417.91 L750,417.94 L750.5,417.98 L751,418.01 L751.5,418.05 L752,418.08 L752.5,418.12 L753,418.15 L753.5,418.18 L754,418.21 L754.5,418.25 L755,418.28 L755.5,418.31 L756,418.34 L756.5,418.33 L757,418.33 L757.5,418.32 L758,418.31 L758.5,418.3 L759,418.28 L759.5,418.27 L760,418.26 L760.5,418.24 L761,418.23 L761.5,418.21 L762,418.19 L762.5,418.18 L763,418.16 L763.5,418.13 L764,418.11 L764.5,418.09 L765,418.06 L765.5,418.03 L766,418 L766.5,417.97 L767,417.93 L767.5,417.89 L768,417.85 L768.5,417.81 L769,417.76 L769.5,417.71 L770,417.66 L770.5,417.6 L771,417.54 L771.5,417.47 L772,417.4 L772.5,417.33 L773,417.25 L773.5,417.16 L774,417.07 L774.5,416.98 L775,416.88 L775.5,416.77 L776,416.65 L776.5,416.53 L777,416.4 L777.5,416.27 L778,416.12 L778.5,415.99 L779,415.84 L779.5,415.69 L780,415.52 L780.5,415.35 L781,415.17 L781.5,414.97 L782,414.77 L782.5,414.55 L783,414.32 L783.5,414.08 L784,413.82 L784.5,413.55 L785,413.26 L785.5,412.96 L786,412.65 L786.5,412.31 L787,411.96 L787.5,411.58 L788,411.19 L788.5,410.77 L789,410.33 L789.5,409.86 L790,409.37 L790.5,408.84 L791,408.28 L791.5,407.68 L792,407.05 L792.5,406.37 L793,405.65 L793.5,404.88 L794,404.06 L794.5,403.19 L795,402.26 L795.5,401.27 L796,400.22 L796.5,399.11 L797,397.94 L797.5,396.7 L798,395.4 L798.5,394.03 L799,392.61 L799.5,391.14 L800,389.61 L800.5,388.04 L801,386.43 L801.5,384.79 L802,383.13 L802.5,381.45 L803,379.78 L803.5,378.11 L804,376.46 L804.5,374.83 L805,373.24 L805.5,371.7 L806,370.2 L806.5,368.77 L807,367.39 L807.5,366.07 L808,364.81 L808.5,363.6 L809,362.45 L809.5,361.33 L810,360.25 L810.5,359.18 L811,358.12 L811.5,357.03 L812,355.92 L812.5,354.75 L813,353.51 L813.5,352.18 L814,350.74 L814.5,349.17 L815,347.46 L815.5,345.58 L816,343.55 L816.5,341.33 L817,338.94 L817.5,336.37 L818,333.63 L818.5,330.72 L819,327.67 L819.5,324.49 L820,321.21 L820.5,317.85 L821,314.44 L821.5,311.03 L822,307.65 L822.5,304.33 L823,301.13 L823.5,298.09 L824,295.24 L824.5,292.63 L825,290.3 L825.5,288.28 L826,286.61 L826.5,285.31 L827,284.41 L827.5,283.93 L828,283.87 L828.5,284.24 L829,285.04 L829.5,286.26 L830,287.89 L830.5,289.92 L831,292.31 L831.5,295.04 L832,298.08 L832.5,301.39 L833,304.93 L833.5,308.66 L834,312.55 L834.5,316.55 L835,320.63 L835.5,324.75 L836,328.87 L836.5,332.96 L837,336.99 L837.5,340.93 L838,344.77 L838.5,348.48 L839,352.05 L839.5,355.46 L840,358.72 L840.5,361.81 L841,364.73 L841.5,367.48 L842,370.07 L842.5,372.5 L843,374.78 L843.5,376.9 L844,378.89 L844.5,380.76 L845,382.5 L845.5,384.13 L846,385.66 L846.5,387.09 L847,388.45 L847.5,389.73 L848,390.94 L848.5,392.09 L849,393.18 L849.5,394.23 L850,395.23 L850.5,396.2 L851,397.12 L851.5,398.02 L852,398.88 L852.5,399.72 L853,400.53 L853.5,401.32 L854,402.08 L854.5,402.83 L855,403.55 L855.5,404.25 L856,404.94 L856.5,405.6 L857,406.25 L857.5,406.88 L858,407.49 L858.5,408.08 L859,408.65 L859.5,409.21 L860,409.75 L860.5,410.27 L861,410.78 L861.5,411.27 L862,411.74 L862.5,412.19 L863,412.63 L863.5,413.05 L864,413.46 L864.5,413.85 L865,414.23 L865.5,414.59 L866,414.94 L866.5,415.28 L867,415.6 L867.5,415.9 L868,416.19 L868.5,416.48 L869,416.74 L869.5,417 L870,417.24 L870.5,417.46 L871,417.66 L871.5,417.85 L872,418.04 L872.5,418.21 L873,418.37 L873.5,418.53 L874,418.67 L874.5,418.81 L875,418.94 L875.5,419.06 L876,419.17 L876.5,419.28 L877,419.38 L877.5,419.48 L878,419.56 L878.5,419.65 L879,419.72 L879.5,419.8 L880,419.86 L880.5,419.93 L881,419.98 L881.5,420.04 L882,420.09 L882.5,420.13 L883,420.18 L883.5,420.22 L884,420.25 L884.5,420.29 L885,420.32 L885.5,420.35 L886,420.37 L886.5,420.4 L887,420.42 L887.5,420.44 L888,420.45 L888.5,420.47 L889,420.48 L889.5,420.5 L890,420.51 L890.5,420.52 L891,420.53 L891.5,420.53 L892,420.54 L892.5,420.55 L893,420.55 L893.5,420.56 L894,420.56 L894.5,420.56 L895,420.56 L895.5,420.56 L896,420.57 L896.5,420.57 L897,420.56 L897.5,420.56 L898,420.56 L898.5,420.56 L899,420.56 L899.5,420.56 L900,420.55 L900.5,420.55 L901,420.55 L901.5,420.55 L902,420.54 L902.5,420.54 L903,420.54 L903.5,420.53 L904,420.53 L904.5,420.52 L905,420.52 L905.5,420.51 L906,420.51 L906.5,420.51 L907,420.5 L907.5,420.5 L908,420.49 L908.5,420.49 L909,420.48 L909.5,420.48 L910,420.47 L910.5,420.47 L911,420.46 L911.5,420.46 L912,420.45 L912.5,420.45 L913,420.44 L913.5,420.44 L914,420.43 L914.5,420.43 L915,420.42 L915.5,420.42 L916,420.41 L916.5,420.4" fill="none" stroke="#ee22e6" stroke-width="1.4"/>
<path d="M3.3,250 L3.3,3.3 L930.6,3.3 L930.6,250 M54,3.3 L54,250" fill="none" stroke="#ff0000" stroke-width="2.6"/>
<path d="M3.3,251.5 L930.6,251.5 L930.6,500.3 L3.3,500.3 Z M54,251.5 L54,500.3" fill="none" stroke="#00a63c" stroke-width="2.8"/>
<text transform="translate(80,41.41) scale(1.1338,1)" font-size="42.24" font-weight="normal" fill="#000" stroke="#000" stroke-width="0.5">(</text>
<text transform="translate(95.37,41.37) scale(0.9423,1)" font-size="43.84" font-weight="bold" fill="#000">a</text>
<text transform="translate(115.71,41.41) scale(1.0969,1)" font-size="42.24" font-weight="normal" fill="#000" stroke="#000" stroke-width="0.5">)</text>
<text transform="translate(369,41.48) scale(1.1308,1)" font-size="42.35" font-weight="normal" fill="#000" stroke="#000" stroke-width="0.5">(</text>
<text transform="translate(384.23,41.79) scale(1.0732,1)" font-size="41.5" font-weight="bold" fill="#000">b</text>
<text transform="translate(407.12,41.48) scale(1.0849,1)" font-size="42.35" font-weight="normal" fill="#000" stroke="#000" stroke-width="0.5">)</text>
<text transform="translate(664.3,41.41) scale(1.1338,1)" font-size="42.24" font-weight="normal" fill="#000" stroke="#000" stroke-width="0.5">(</text>
<text transform="translate(679.93,41.79) scale(0.9811,1)" font-size="43.71" font-weight="bold" fill="#000">c</text>
<text transform="translate(697.71,41.41) scale(1.0969,1)" font-size="42.24" font-weight="normal" fill="#000" stroke="#000" stroke-width="0.5">)</text>
<text transform="translate(79.53,286) scale(1.1830,1)" font-size="41.8" font-weight="normal" fill="#000" stroke="#000" stroke-width="0.5">(</text>
<text transform="translate(95.01,286.79) scale(0.9998,1)" font-size="41.64" font-weight="bold" fill="#000">d</text>
<text transform="translate(118.06,286) scale(1.1458,1)" font-size="41.8" font-weight="normal" fill="#000" stroke="#000" stroke-width="0.5">)</text>
<text transform="translate(375.5,286) scale(1.1458,1)" font-size="41.8" font-weight="normal" fill="#000" stroke="#000" stroke-width="0.5">(</text>
<text transform="translate(390.74,286.69) scale(0.9575,1)" font-size="44.63" font-weight="bold" fill="#000">e</text>
<text transform="translate(408.86,286) scale(1.1458,1)" font-size="41.8" font-weight="normal" fill="#000" stroke="#000" stroke-width="0.5">)</text>
<text transform="translate(663.4,285.1) scale(1.1458,1)" font-size="41.8" font-weight="normal" fill="#000" stroke="#000" stroke-width="0.5">(</text>
<text transform="translate(679.26,285.3) scale(1.1142,1)" font-size="41.47" font-weight="bold" fill="#000">f</text>
<text transform="translate(691.76,285.1) scale(1.1458,1)" font-size="41.8" font-weight="normal" fill="#000" stroke="#000" stroke-width="0.5">)</text>
<text transform="translate(276.36,31.83) scale(1.0029,1)" font-size="25.71" font-weight="bold" fill="#000">Fe 2p</text>
<text transform="translate(561.35,31.63) scale(0.9614,1)" font-size="26.63" font-weight="bold" fill="#000">Cr 2p</text>
<text transform="translate(864.23,32.43) scale(0.9274,1)" font-size="28.13" font-weight="bold" fill="#000">O 1s</text>
<text transform="translate(280.75,279.06) scale(0.9912,1)" font-size="26.03" font-weight="bold" fill="#000">Al 2p</text>
<text transform="translate(561.74,279.03) scale(0.9677,1)" font-size="26.63" font-weight="bold" fill="#000">Cr 2p</text>
<text transform="translate(865.83,279.43) scale(0.9274,1)" font-size="28.13" font-weight="bold" fill="#000">O 1s</text>
<text transform="translate(128.26,246.8) scale(1.1343,1)" font-size="18.16" font-weight="bold" fill="#000">Binding Energy(ev)</text>
<text transform="translate(421.35,246.3) scale(1.1450,1)" font-size="18.16" font-weight="bold" fill="#000">Binding Energy(ev)</text>
<text transform="translate(702.66,246.8) scale(1.1410,1)" font-size="18.16" font-weight="bold" fill="#000">Binding Energy(ev)</text>
<text transform="translate(125.46,495) scale(1.1377,1)" font-size="18.16" font-weight="bold" fill="#000">Binding Energy(ev)</text>
<text transform="translate(421.35,494.7) scale(1.1450,1)" font-size="18.16" font-weight="bold" fill="#000">Binding Energy(ev)</text>
<text transform="translate(717.95,494.8) scale(1.1450,1)" font-size="18.16" font-weight="bold" fill="#000">Binding Energy(ev)</text>
<text transform="translate(72.68,186.2) rotate(-90) scale(1.0405,1)" font-size="20.01" font-weight="bold" fill="#000">Intensity(a.u.)</text>
<text transform="translate(359.81,185.3) rotate(-90) scale(1.0437,1)" font-size="19.9" font-weight="bold" fill="#000">Intensity(a.u.)</text>
<text transform="translate(650.61,185.3) rotate(-90) scale(1.0211,1)" font-size="20.34" font-weight="bold" fill="#000">Intensity(a.u.)</text>
<text transform="translate(72.68,428.9) rotate(-90) scale(1.0371,1)" font-size="20.01" font-weight="bold" fill="#000">Intensity(a.u.)</text>
<text transform="translate(363.61,428.6) rotate(-90) scale(1.0403,1)" font-size="19.9" font-weight="bold" fill="#000">Intensity(a.u.)</text>
<text transform="translate(645.68,428.6) rotate(-90) scale(1.0346,1)" font-size="20.01" font-weight="bold" fill="#000">Intensity(a.u.)</text>
<text transform="translate(36.83,201.01) rotate(-90) scale(1.0034,1)" font-size="20.51" font-weight="bold" fill="#000">uncoated sample</text>
<text transform="translate(36.89,498.92) rotate(-90) scale(0.9900,1)" font-size="19.3" font-weight="bold" fill="#000">annealed Cr-Al coated sample</text>
<text transform="translate(140.57,74.8) scale(0.9632,1)" font-size="25.96" font-weight="bold" fill="#00f014">Fe</text>
<text transform="translate(165.69,82.76) scale(1.1207,1)" font-size="14.59" font-weight="bold" fill="#00f014">3</text>
<text transform="translate(172.98,74.75) scale(1.0629,1)" font-size="25.45" font-weight="bold" fill="#00f014">O</text>
<text transform="translate(192.8,82.9) scale(1.0368,1)" font-size="14.43" font-weight="bold" fill="#00f014">4</text>
<line x1="212.8" y1="115.3" x2="185.17" y2="84.73" stroke="#00f014" stroke-width="3.1"/>
<path d="M180.8,79.9 L190.52,83.65 L185.79,85.42 L183.55,89.95 Z" fill="#00f014"/>
<text transform="translate(235.78,86.9) scale(0.9903,1)" font-size="24.62" font-weight="bold" fill="#fc0606">FeCr</text>
<text transform="translate(289.76,95.2) scale(1.0361,1)" font-size="14.65" font-weight="bold" fill="#fc0606">2</text>
<text transform="translate(297.13,87.35) scale(1.0285,1)" font-size="25.3" font-weight="bold" fill="#fc0606">O</text>
<text transform="translate(316.6,95.2) scale(1.0944,1)" font-size="13.67" font-weight="bold" fill="#fc0606">4</text>
<line x1="247.3" y1="120.5" x2="273.89" y2="95.19" stroke="#fc0606" stroke-width="3.1"/>
<path d="M278.6,90.7 L275.11,100.52 L273.21,95.83 L268.62,93.71 Z" fill="#fc0606"/>
<text transform="translate(451.99,57.8) scale(1.0038,1)" font-size="24.01" font-weight="bold" fill="#fc0606">FeCr</text>
<text transform="translate(505.72,66) scale(1.1618,1)" font-size="13.89" font-weight="bold" fill="#fc0606">2</text>
<text transform="translate(513.45,58.45) scale(1.0051,1)" font-size="25.45" font-weight="bold" fill="#fc0606">O</text>
<text transform="translate(533.22,66.3) scale(0.8887,1)" font-size="14.43" font-weight="bold" fill="#fc0606">4</text>
<line x1="527.6" y1="93.3" x2="499.76" y2="68.53" stroke="#fc0606" stroke-width="3.1"/>
<path d="M494.9,64.2 L504.97,66.87 L500.46,69.15 L498.72,73.89 Z" fill="#fc0606"/>
<text transform="translate(762.78,51.58) scale(1.0776,1)" font-size="32.74" font-weight="bold" fill="#00f014">O</text>
<text transform="translate(789.09,62.8) scale(1.0469,1)" font-size="18.16" font-weight="bold" fill="#00f014">ads</text>
<line x1="814.4" y1="96.4" x2="790.52" y2="69.47" stroke="#00f014" stroke-width="3.1"/>
<path d="M786.2,64.6 L795.89,68.44 L791.14,70.17 L788.85,74.68 Z" fill="#00f014"/>
<text transform="translate(204.87,333.8) scale(0.9999,1)" font-size="23.64" font-weight="bold" fill="#fc0606">Al</text>
<text transform="translate(228.55,342.3) scale(0.8881,1)" font-size="14.65" font-weight="bold" fill="#fc0606">2</text>
<text transform="translate(235.67,334.35) scale(0.9652,1)" font-size="26.05" font-weight="bold" fill="#fc0606">O</text>
<text transform="translate(255.19,342.56) scale(0.9286,1)" font-size="14.59" font-weight="bold" fill="#fc0606">3</text>
<line x1="193.9" y1="369.2" x2="220.6" y2="342.5" stroke="#fc0606" stroke-width="3.1"/>
<path d="M225.2,337.9 L221.95,347.8 L219.94,343.16 L215.3,341.15 Z" fill="#fc0606"/>
<text transform="translate(765.98,284.16) scale(1.0219,1)" font-size="34.53" font-weight="bold" fill="#00f014">O</text>
<text transform="translate(792.27,294.6) scale(1.0826,1)" font-size="18.16" font-weight="bold" fill="#00f014">ads</text>
<line x1="820.5" y1="323.4" x2="801.1" y2="302.2" stroke="#00f014" stroke-width="3.1"/>
<path d="M796.7,297.4 L806.45,301.09 L801.72,302.89 L799.51,307.43 Z" fill="#00f014"/>
<text transform="translate(849.46,351.1) scale(1.0186,1)" font-size="24.21" font-weight="bold" fill="#fc0606">Al</text>
<text transform="translate(874.17,358.9) scale(0.9697,1)" font-size="15.41" font-weight="bold" fill="#fc0606">2</text>
<text transform="translate(881.54,351.34) scale(0.9711,1)" font-size="26.49" font-weight="bold" fill="#fc0606">O</text>
<text transform="translate(900.43,359.15) scale(0.9998,1)" font-size="15.18" font-weight="bold" fill="#fc0606">3</text>
<line x1="844.9" y1="387.7" x2="864.66" y2="359.53" stroke="#fc0606" stroke-width="3.1"/>
<path d="M868.4,354.2 L866.91,364.51 L864.13,360.29 L859.21,359.11 Z" fill="#fc0606"/>
</svg>
</body></html>
